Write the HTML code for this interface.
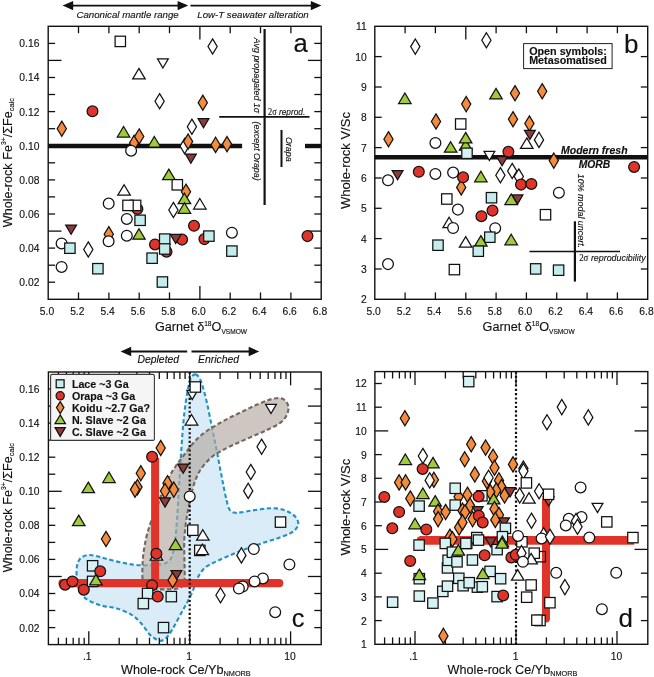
<!DOCTYPE html>
<html><head><meta charset="utf-8"><title>Figure</title>
<style>html,body{margin:0;padding:0;background:#fff;}svg{display:block;will-change:transform;}text{font-family:"Liberation Sans",sans-serif;stroke:#111;stroke-width:0.14px;}</style>
</head><body>
<svg width="654" height="677" viewBox="0 0 654 677">
<rect width="654" height="677" fill="#fff"/>
<line x1="48.2" y1="146.0" x2="242.1" y2="146.0" stroke="#111" stroke-width="4.4" />
<line x1="305.0" y1="146.0" x2="321.2" y2="146.0" stroke="#111" stroke-width="4.4" />
<line x1="264.6" y1="29.0" x2="264.6" y2="205.0" stroke="#111" stroke-width="2.2" />
<line x1="219.2" y1="116.8" x2="309.5" y2="116.8" stroke="#111" stroke-width="1.7" />
<line x1="281.5" y1="130.0" x2="281.5" y2="167.0" stroke="#111" stroke-width="2.0" />
<line x1="78.5" y1="26.3" x2="78.5" y2="33.2" stroke="#111" stroke-width="1.3" />
<line x1="78.5" y1="299.3" x2="78.5" y2="292.4" stroke="#111" stroke-width="1.3" />
<line x1="108.9" y1="26.3" x2="108.9" y2="33.2" stroke="#111" stroke-width="1.3" />
<line x1="108.9" y1="299.3" x2="108.9" y2="292.4" stroke="#111" stroke-width="1.3" />
<line x1="139.2" y1="26.3" x2="139.2" y2="33.2" stroke="#111" stroke-width="1.3" />
<line x1="139.2" y1="299.3" x2="139.2" y2="292.4" stroke="#111" stroke-width="1.3" />
<line x1="169.5" y1="26.3" x2="169.5" y2="33.2" stroke="#111" stroke-width="1.3" />
<line x1="169.5" y1="299.3" x2="169.5" y2="292.4" stroke="#111" stroke-width="1.3" />
<line x1="199.9" y1="26.3" x2="199.9" y2="39.6" stroke="#111" stroke-width="1.3" />
<line x1="199.9" y1="299.3" x2="199.9" y2="286.0" stroke="#111" stroke-width="1.3" />
<line x1="230.2" y1="26.3" x2="230.2" y2="33.2" stroke="#111" stroke-width="1.3" />
<line x1="230.2" y1="299.3" x2="230.2" y2="292.4" stroke="#111" stroke-width="1.3" />
<line x1="260.5" y1="26.3" x2="260.5" y2="33.2" stroke="#111" stroke-width="1.3" />
<line x1="260.5" y1="299.3" x2="260.5" y2="292.4" stroke="#111" stroke-width="1.3" />
<line x1="290.9" y1="26.3" x2="290.9" y2="33.2" stroke="#111" stroke-width="1.3" />
<line x1="290.9" y1="299.3" x2="290.9" y2="292.4" stroke="#111" stroke-width="1.3" />
<line x1="48.2" y1="282.2" x2="55.1" y2="282.2" stroke="#111" stroke-width="1.3" />
<line x1="321.2" y1="282.2" x2="314.3" y2="282.2" stroke="#111" stroke-width="1.3" />
<line x1="48.2" y1="265.2" x2="55.1" y2="265.2" stroke="#111" stroke-width="1.3" />
<line x1="321.2" y1="265.2" x2="314.3" y2="265.2" stroke="#111" stroke-width="1.3" />
<line x1="48.2" y1="248.1" x2="55.1" y2="248.1" stroke="#111" stroke-width="1.3" />
<line x1="321.2" y1="248.1" x2="314.3" y2="248.1" stroke="#111" stroke-width="1.3" />
<line x1="48.2" y1="231.1" x2="61.5" y2="231.1" stroke="#111" stroke-width="1.3" />
<line x1="321.2" y1="231.1" x2="307.9" y2="231.1" stroke="#111" stroke-width="1.3" />
<line x1="48.2" y1="214.0" x2="55.1" y2="214.0" stroke="#111" stroke-width="1.3" />
<line x1="321.2" y1="214.0" x2="314.3" y2="214.0" stroke="#111" stroke-width="1.3" />
<line x1="48.2" y1="196.9" x2="55.1" y2="196.9" stroke="#111" stroke-width="1.3" />
<line x1="321.2" y1="196.9" x2="314.3" y2="196.9" stroke="#111" stroke-width="1.3" />
<line x1="48.2" y1="179.9" x2="55.1" y2="179.9" stroke="#111" stroke-width="1.3" />
<line x1="321.2" y1="179.9" x2="314.3" y2="179.9" stroke="#111" stroke-width="1.3" />
<line x1="48.2" y1="162.8" x2="55.1" y2="162.8" stroke="#111" stroke-width="1.3" />
<line x1="321.2" y1="162.8" x2="314.3" y2="162.8" stroke="#111" stroke-width="1.3" />
<line x1="48.2" y1="145.7" x2="61.5" y2="145.7" stroke="#111" stroke-width="1.3" />
<line x1="321.2" y1="145.7" x2="307.9" y2="145.7" stroke="#111" stroke-width="1.3" />
<line x1="48.2" y1="128.7" x2="55.1" y2="128.7" stroke="#111" stroke-width="1.3" />
<line x1="321.2" y1="128.7" x2="314.3" y2="128.7" stroke="#111" stroke-width="1.3" />
<line x1="48.2" y1="111.6" x2="55.1" y2="111.6" stroke="#111" stroke-width="1.3" />
<line x1="321.2" y1="111.6" x2="314.3" y2="111.6" stroke="#111" stroke-width="1.3" />
<line x1="48.2" y1="94.5" x2="55.1" y2="94.5" stroke="#111" stroke-width="1.3" />
<line x1="321.2" y1="94.5" x2="314.3" y2="94.5" stroke="#111" stroke-width="1.3" />
<line x1="48.2" y1="77.5" x2="55.1" y2="77.5" stroke="#111" stroke-width="1.3" />
<line x1="321.2" y1="77.5" x2="314.3" y2="77.5" stroke="#111" stroke-width="1.3" />
<line x1="48.2" y1="60.4" x2="61.5" y2="60.4" stroke="#111" stroke-width="1.3" />
<line x1="321.2" y1="60.4" x2="307.9" y2="60.4" stroke="#111" stroke-width="1.3" />
<line x1="48.2" y1="43.4" x2="55.1" y2="43.4" stroke="#111" stroke-width="1.3" />
<line x1="321.2" y1="43.4" x2="314.3" y2="43.4" stroke="#111" stroke-width="1.3" />
<rect x="48.2" y="26.3" width="273.0" height="273.0" fill="none" stroke="#111" stroke-width="1.4"/>
<text x="47.0" y="314.7" font-family="Liberation Sans, sans-serif" font-size="10.3" text-anchor="middle" font-weight="normal" font-style="normal" fill="#111" >5.0</text>
<text x="77.3" y="314.7" font-family="Liberation Sans, sans-serif" font-size="10.3" text-anchor="middle" font-weight="normal" font-style="normal" fill="#111" >5.2</text>
<text x="107.7" y="314.7" font-family="Liberation Sans, sans-serif" font-size="10.3" text-anchor="middle" font-weight="normal" font-style="normal" fill="#111" >5.4</text>
<text x="138.0" y="314.7" font-family="Liberation Sans, sans-serif" font-size="10.3" text-anchor="middle" font-weight="normal" font-style="normal" fill="#111" >5.6</text>
<text x="168.3" y="314.7" font-family="Liberation Sans, sans-serif" font-size="10.3" text-anchor="middle" font-weight="normal" font-style="normal" fill="#111" >5.8</text>
<text x="198.7" y="314.7" font-family="Liberation Sans, sans-serif" font-size="10.3" text-anchor="middle" font-weight="normal" font-style="normal" fill="#111" >6.0</text>
<text x="229.0" y="314.7" font-family="Liberation Sans, sans-serif" font-size="10.3" text-anchor="middle" font-weight="normal" font-style="normal" fill="#111" >6.2</text>
<text x="259.3" y="314.7" font-family="Liberation Sans, sans-serif" font-size="10.3" text-anchor="middle" font-weight="normal" font-style="normal" fill="#111" >6.4</text>
<text x="289.7" y="314.7" font-family="Liberation Sans, sans-serif" font-size="10.3" text-anchor="middle" font-weight="normal" font-style="normal" fill="#111" >6.6</text>
<text x="320.0" y="314.7" font-family="Liberation Sans, sans-serif" font-size="10.3" text-anchor="middle" font-weight="normal" font-style="normal" fill="#111" >6.8</text>
<text x="39.4" y="286.1" font-family="Liberation Sans, sans-serif" font-size="10.3" text-anchor="end" font-weight="normal" font-style="normal" fill="#111" >0.02</text>
<text x="39.4" y="252.0" font-family="Liberation Sans, sans-serif" font-size="10.3" text-anchor="end" font-weight="normal" font-style="normal" fill="#111" >0.04</text>
<text x="39.4" y="217.9" font-family="Liberation Sans, sans-serif" font-size="10.3" text-anchor="end" font-weight="normal" font-style="normal" fill="#111" >0.06</text>
<text x="39.4" y="183.8" font-family="Liberation Sans, sans-serif" font-size="10.3" text-anchor="end" font-weight="normal" font-style="normal" fill="#111" >0.08</text>
<text x="39.4" y="149.6" font-family="Liberation Sans, sans-serif" font-size="10.3" text-anchor="end" font-weight="normal" font-style="normal" fill="#111" >0.10</text>
<text x="39.4" y="115.5" font-family="Liberation Sans, sans-serif" font-size="10.3" text-anchor="end" font-weight="normal" font-style="normal" fill="#111" >0.12</text>
<text x="39.4" y="81.4" font-family="Liberation Sans, sans-serif" font-size="10.3" text-anchor="end" font-weight="normal" font-style="normal" fill="#111" >0.14</text>
<text x="39.4" y="47.3" font-family="Liberation Sans, sans-serif" font-size="10.3" text-anchor="end" font-weight="normal" font-style="normal" fill="#111" >0.16</text>
<rect x="115.1" y="36.2" width="10.4" height="10.4" fill="#ffffff" stroke="#111" stroke-width="1.25"/>
<path d="M212.6 38.9L217.2 46.5L212.6 54.1L208.0 46.5Z" fill="#ffffff" stroke="#111" stroke-width="1.25"/>
<path d="M162.9 68.0L168.3 58.8L157.5 58.8Z" fill="#ffffff" stroke="#111" stroke-width="1.25"/>
<path d="M138.9 68.4L145.2 78.9L132.7 78.9Z" fill="#ffffff" stroke="#111" stroke-width="1.25"/>
<path d="M159.6 93.6L164.2 101.2L159.6 108.8L155.0 101.2Z" fill="#ffffff" stroke="#111" stroke-width="1.25"/>
<path d="M202.8 95.1L207.4 102.7L202.8 110.3L198.2 102.7Z" fill="#f58b3c" stroke="#111" stroke-width="1.25"/>
<circle cx="92.5" cy="111.3" r="5.4" fill="#e0342a" stroke="#111" stroke-width="1.25"/>
<path d="M191.9 119.1L196.5 126.7L191.9 134.3L187.3 126.7Z" fill="#ffffff" stroke="#111" stroke-width="1.25"/>
<path d="M203.5 127.8L208.9 118.6L198.1 118.6Z" fill="#8e3b3b" stroke="#111" stroke-width="1.25"/>
<path d="M123.6 126.5L129.8 137.0L117.3 137.0Z" fill="#9fcc38" stroke="#111" stroke-width="1.25"/>
<path d="M134.1 135.3L138.7 142.9L134.1 150.5L129.5 142.9Z" fill="#f58b3c" stroke="#111" stroke-width="1.25"/>
<path d="M139.2 128.9L143.8 136.5L139.2 144.1L134.6 136.5Z" fill="#f58b3c" stroke="#111" stroke-width="1.25"/>
<circle cx="131.1" cy="150.7" r="5.4" fill="#ffffff" stroke="#111" stroke-width="1.25"/>
<path d="M154.3 136.5L160.6 147.0L148.1 147.0Z" fill="#9fcc38" stroke="#111" stroke-width="1.25"/>
<path d="M184.6 138.5L189.2 146.1L184.6 153.7L180.0 146.1Z" fill="#ffffff" stroke="#111" stroke-width="1.25"/>
<path d="M188.1 134.0L192.7 141.6L188.1 149.2L183.5 141.6Z" fill="#f58b3c" stroke="#111" stroke-width="1.25"/>
<path d="M190.9 163.3L196.3 154.1L185.5 154.1Z" fill="#8e3b3b" stroke="#111" stroke-width="1.25"/>
<path d="M215.6 137.3L220.2 144.9L215.6 152.5L211.0 144.9Z" fill="#f58b3c" stroke="#111" stroke-width="1.25"/>
<path d="M227.0 136.5L231.6 144.1L227.0 151.7L222.4 144.1Z" fill="#f58b3c" stroke="#111" stroke-width="1.25"/>
<path d="M61.8 121.1L66.4 128.7L61.8 136.3L57.2 128.7Z" fill="#f58b3c" stroke="#111" stroke-width="1.25"/>
<path d="M168.8 169.1L175.1 179.6L162.6 179.6Z" fill="#9fcc38" stroke="#111" stroke-width="1.25"/>
<rect x="172.1" y="179.6" width="10.4" height="10.4" fill="#ffffff" stroke="#111" stroke-width="1.25"/>
<path d="M186.0 184.1L190.6 191.7L186.0 199.3L181.4 191.7Z" fill="#f58b3c" stroke="#111" stroke-width="1.25"/>
<path d="M184.4 193.2L190.7 203.7L178.2 203.7Z" fill="#9fcc38" stroke="#111" stroke-width="1.25"/>
<path d="M184.4 202.8L190.7 213.3L178.2 213.3Z" fill="#9fcc38" stroke="#111" stroke-width="1.25"/>
<path d="M173.4 202.4L178.0 210.0L173.4 217.6L168.8 210.0Z" fill="#ffffff" stroke="#111" stroke-width="1.25"/>
<path d="M199.8 198.5L206.1 209.0L193.6 209.0Z" fill="#ffffff" stroke="#111" stroke-width="1.25"/>
<path d="M124.1 184.7L130.3 195.2L117.8 195.2Z" fill="#ffffff" stroke="#111" stroke-width="1.25"/>
<circle cx="108.7" cy="203.6" r="5.4" fill="#ffffff" stroke="#111" stroke-width="1.25"/>
<circle cx="137.4" cy="208.9" r="5.4" fill="#e0342a" stroke="#111" stroke-width="1.25"/>
<rect x="130.4" y="200.2" width="10.4" height="10.4" fill="#ffffff" stroke="#111" stroke-width="1.25"/>
<rect x="122.8" y="200.2" width="10.4" height="10.4" fill="#ffffff" stroke="#111" stroke-width="1.25"/>
<circle cx="126.8" cy="218.9" r="5.4" fill="#ffffff" stroke="#111" stroke-width="1.25"/>
<rect x="134.9" y="215.1" width="10.4" height="10.4" fill="#c4ecec" stroke="#111" stroke-width="1.25"/>
<path d="M71.1 234.3L76.5 225.1L65.7 225.1Z" fill="#8e3b3b" stroke="#111" stroke-width="1.25"/>
<path d="M108.8 226.6L113.4 234.2L108.8 241.8L104.2 234.2Z" fill="#f58b3c" stroke="#111" stroke-width="1.25"/>
<circle cx="108.6" cy="241.3" r="5.4" fill="#ffffff" stroke="#111" stroke-width="1.25"/>
<circle cx="126.8" cy="235.7" r="5.4" fill="#ffffff" stroke="#111" stroke-width="1.25"/>
<path d="M139.0 228.7L145.2 239.2L132.8 239.2Z" fill="#9fcc38" stroke="#111" stroke-width="1.25"/>
<circle cx="61.6" cy="243.4" r="5.4" fill="#ffffff" stroke="#111" stroke-width="1.25"/>
<rect x="64.7" y="243.0" width="10.4" height="10.4" fill="#c4ecec" stroke="#111" stroke-width="1.25"/>
<path d="M88.3 241.9L92.9 249.5L88.3 257.1L83.7 249.5Z" fill="#ffffff" stroke="#111" stroke-width="1.25"/>
<circle cx="61.6" cy="266.9" r="5.4" fill="#ffffff" stroke="#111" stroke-width="1.25"/>
<rect x="92.7" y="263.5" width="10.4" height="10.4" fill="#c4ecec" stroke="#111" stroke-width="1.25"/>
<circle cx="194.0" cy="225.8" r="5.4" fill="#e0342a" stroke="#111" stroke-width="1.25"/>
<circle cx="231.9" cy="232.7" r="5.4" fill="#ffffff" stroke="#111" stroke-width="1.25"/>
<circle cx="204.4" cy="239.1" r="5.4" fill="#e0342a" stroke="#111" stroke-width="1.25"/>
<rect x="203.7" y="230.9" width="10.4" height="10.4" fill="#c4ecec" stroke="#111" stroke-width="1.25"/>
<circle cx="182.1" cy="239.6" r="5.4" fill="#e0342a" stroke="#111" stroke-width="1.25"/>
<path d="M175.7 243.5L181.1 234.3L170.3 234.3Z" fill="#8e3b3b" stroke="#111" stroke-width="1.25"/>
<circle cx="155.0" cy="244.4" r="5.4" fill="#e0342a" stroke="#111" stroke-width="1.25"/>
<circle cx="166.5" cy="251.7" r="5.4" fill="#e0342a" stroke="#111" stroke-width="1.25"/>
<rect x="159.5" y="233.9" width="10.4" height="10.4" fill="#c4ecec" stroke="#111" stroke-width="1.25"/>
<rect x="159.5" y="243.8" width="10.4" height="10.4" fill="#c4ecec" stroke="#111" stroke-width="1.25"/>
<rect x="146.9" y="253.0" width="10.4" height="10.4" fill="#c4ecec" stroke="#111" stroke-width="1.25"/>
<rect x="226.7" y="245.9" width="10.4" height="10.4" fill="#c4ecec" stroke="#111" stroke-width="1.25"/>
<rect x="157.2" y="276.8" width="10.4" height="10.4" fill="#c4ecec" stroke="#111" stroke-width="1.25"/>
<circle cx="307.5" cy="236.1" r="5.4" fill="#e0342a" stroke="#111" stroke-width="1.25"/>
<text x="127.6" y="17.6" font-family="Liberation Sans, sans-serif" font-size="9.7" text-anchor="middle" font-weight="normal" font-style="italic" fill="#111" >Canonical mantle range</text>
<text x="253.0" y="17.6" font-family="Liberation Sans, sans-serif" font-size="9.7" text-anchor="middle" font-weight="normal" font-style="italic" fill="#111" >Low-T seawater alteration</text>
<line x1="70.0" y1="5.6" x2="180.0" y2="5.6" stroke="#111" stroke-width="1.9" />
<path d="M62.6 5.6L73.2 0.9L73.2 10.3Z" fill="#111"/>
<path d="M188.2 5.6L177.6 0.9L177.6 10.3Z" fill="#111"/>
<line x1="190.5" y1="5.6" x2="313.0" y2="5.6" stroke="#111" stroke-width="1.9" />
<path d="M321.4 5.6L310.8 0.9L310.8 10.3Z" fill="#111"/>
<text x="300.6" y="52.2" font-family="Liberation Sans, sans-serif" font-size="25.6" text-anchor="middle" font-weight="normal" font-style="normal" fill="#111" >a</text>
<text transform="translate(253.5,37.8) rotate(90)" font-family="Liberation Sans, sans-serif" font-size="9.7" font-style="italic" fill="#111" textLength="75.4" lengthAdjust="spacingAndGlyphs">Avg propagated 1σ</text>
<text transform="translate(253.5,121.6) rotate(90)" font-family="Liberation Sans, sans-serif" font-size="9.7" font-style="italic" fill="#111" textLength="59" lengthAdjust="spacingAndGlyphs">(except Orapa)</text>
<text x="268" y="114.7" font-family="Liberation Sans, sans-serif" font-size="9.7" font-style="italic" fill="#111" textLength="37.2" lengthAdjust="spacingAndGlyphs"><tspan font-family="Liberation Serif, serif" font-style="normal">2σ</tspan> reprod.</text>
<text transform="translate(286,136.9) rotate(90)" font-family="Liberation Sans, sans-serif" font-size="9.7" font-style="italic" fill="#111" textLength="24.8" lengthAdjust="spacingAndGlyphs">Orapa</text>
<text x="155" y="331.4" font-family="Liberation Sans, sans-serif" font-size="12.65" fill="#111">Garnet δ<tspan font-size="6.6" dy="-5.5">18</tspan><tspan dy="5.5">O</tspan><tspan font-size="6.6" dy="2.5">VSMOW</tspan></text>
<text transform="translate(11.6,162.6) rotate(-90)" font-family="Liberation Sans, sans-serif" font-size="12.65" text-anchor="middle" fill="#111">Whole-rock Fe<tspan font-size="6.8" dy="-5.5">3+</tspan><tspan dy="5.5">/ΣFe</tspan><tspan font-size="7.5" dy="2.5">calc</tspan></text>
<line x1="374.8" y1="157.3" x2="647.7" y2="157.3" stroke="#111" stroke-width="4.4" />
<line x1="574.9" y1="221.3" x2="574.9" y2="281.6" stroke="#111" stroke-width="2.2" />
<line x1="529.4" y1="251.5" x2="620.0" y2="251.5" stroke="#111" stroke-width="1.7" />
<line x1="405.1" y1="26.3" x2="405.1" y2="33.2" stroke="#111" stroke-width="1.3" />
<line x1="405.1" y1="299.3" x2="405.1" y2="292.4" stroke="#111" stroke-width="1.3" />
<line x1="435.4" y1="26.3" x2="435.4" y2="33.2" stroke="#111" stroke-width="1.3" />
<line x1="435.4" y1="299.3" x2="435.4" y2="292.4" stroke="#111" stroke-width="1.3" />
<line x1="465.8" y1="26.3" x2="465.8" y2="39.6" stroke="#111" stroke-width="1.3" />
<line x1="465.8" y1="299.3" x2="465.8" y2="292.4" stroke="#111" stroke-width="1.3" />
<line x1="496.1" y1="26.3" x2="496.1" y2="33.2" stroke="#111" stroke-width="1.3" />
<line x1="496.1" y1="299.3" x2="496.1" y2="292.4" stroke="#111" stroke-width="1.3" />
<line x1="526.4" y1="26.3" x2="526.4" y2="33.2" stroke="#111" stroke-width="1.3" />
<line x1="526.4" y1="299.3" x2="526.4" y2="292.4" stroke="#111" stroke-width="1.3" />
<line x1="556.7" y1="26.3" x2="556.7" y2="33.2" stroke="#111" stroke-width="1.3" />
<line x1="556.7" y1="299.3" x2="556.7" y2="292.4" stroke="#111" stroke-width="1.3" />
<line x1="587.1" y1="26.3" x2="587.1" y2="33.2" stroke="#111" stroke-width="1.3" />
<line x1="587.1" y1="299.3" x2="587.1" y2="292.4" stroke="#111" stroke-width="1.3" />
<line x1="617.4" y1="26.3" x2="617.4" y2="33.2" stroke="#111" stroke-width="1.3" />
<line x1="617.4" y1="299.3" x2="617.4" y2="292.4" stroke="#111" stroke-width="1.3" />
<line x1="374.8" y1="269.0" x2="381.7" y2="269.0" stroke="#111" stroke-width="1.3" />
<line x1="647.7" y1="269.0" x2="640.8" y2="269.0" stroke="#111" stroke-width="1.3" />
<line x1="374.8" y1="238.6" x2="381.7" y2="238.6" stroke="#111" stroke-width="1.3" />
<line x1="647.7" y1="238.6" x2="640.8" y2="238.6" stroke="#111" stroke-width="1.3" />
<line x1="374.8" y1="208.3" x2="381.7" y2="208.3" stroke="#111" stroke-width="1.3" />
<line x1="647.7" y1="208.3" x2="640.8" y2="208.3" stroke="#111" stroke-width="1.3" />
<line x1="374.8" y1="178.0" x2="381.7" y2="178.0" stroke="#111" stroke-width="1.3" />
<line x1="647.7" y1="178.0" x2="640.8" y2="178.0" stroke="#111" stroke-width="1.3" />
<line x1="374.8" y1="147.6" x2="381.7" y2="147.6" stroke="#111" stroke-width="1.3" />
<line x1="647.7" y1="147.6" x2="640.8" y2="147.6" stroke="#111" stroke-width="1.3" />
<line x1="374.8" y1="117.3" x2="381.7" y2="117.3" stroke="#111" stroke-width="1.3" />
<line x1="647.7" y1="117.3" x2="640.8" y2="117.3" stroke="#111" stroke-width="1.3" />
<line x1="374.8" y1="87.0" x2="381.7" y2="87.0" stroke="#111" stroke-width="1.3" />
<line x1="647.7" y1="87.0" x2="640.8" y2="87.0" stroke="#111" stroke-width="1.3" />
<line x1="374.8" y1="56.6" x2="381.7" y2="56.6" stroke="#111" stroke-width="1.3" />
<line x1="647.7" y1="56.6" x2="640.8" y2="56.6" stroke="#111" stroke-width="1.3" />
<rect x="374.8" y="26.3" width="272.90000000000003" height="273.0" fill="none" stroke="#111" stroke-width="1.4"/>
<text x="373.6" y="314.7" font-family="Liberation Sans, sans-serif" font-size="10.3" text-anchor="middle" font-weight="normal" font-style="normal" fill="#111" >5.0</text>
<text x="403.9" y="314.7" font-family="Liberation Sans, sans-serif" font-size="10.3" text-anchor="middle" font-weight="normal" font-style="normal" fill="#111" >5.2</text>
<text x="434.2" y="314.7" font-family="Liberation Sans, sans-serif" font-size="10.3" text-anchor="middle" font-weight="normal" font-style="normal" fill="#111" >5.4</text>
<text x="464.6" y="314.7" font-family="Liberation Sans, sans-serif" font-size="10.3" text-anchor="middle" font-weight="normal" font-style="normal" fill="#111" >5.6</text>
<text x="494.9" y="314.7" font-family="Liberation Sans, sans-serif" font-size="10.3" text-anchor="middle" font-weight="normal" font-style="normal" fill="#111" >5.8</text>
<text x="525.2" y="314.7" font-family="Liberation Sans, sans-serif" font-size="10.3" text-anchor="middle" font-weight="normal" font-style="normal" fill="#111" >6.0</text>
<text x="555.5" y="314.7" font-family="Liberation Sans, sans-serif" font-size="10.3" text-anchor="middle" font-weight="normal" font-style="normal" fill="#111" >6.2</text>
<text x="585.9" y="314.7" font-family="Liberation Sans, sans-serif" font-size="10.3" text-anchor="middle" font-weight="normal" font-style="normal" fill="#111" >6.4</text>
<text x="616.2" y="314.7" font-family="Liberation Sans, sans-serif" font-size="10.3" text-anchor="middle" font-weight="normal" font-style="normal" fill="#111" >6.6</text>
<text x="646.5" y="314.7" font-family="Liberation Sans, sans-serif" font-size="10.3" text-anchor="middle" font-weight="normal" font-style="normal" fill="#111" >6.8</text>
<text x="366.7" y="303.2" font-family="Liberation Sans, sans-serif" font-size="10.3" text-anchor="end" font-weight="normal" font-style="normal" fill="#111" >2</text>
<text x="366.7" y="272.9" font-family="Liberation Sans, sans-serif" font-size="10.3" text-anchor="end" font-weight="normal" font-style="normal" fill="#111" >3</text>
<text x="366.7" y="242.5" font-family="Liberation Sans, sans-serif" font-size="10.3" text-anchor="end" font-weight="normal" font-style="normal" fill="#111" >4</text>
<text x="366.7" y="212.2" font-family="Liberation Sans, sans-serif" font-size="10.3" text-anchor="end" font-weight="normal" font-style="normal" fill="#111" >5</text>
<text x="366.7" y="181.9" font-family="Liberation Sans, sans-serif" font-size="10.3" text-anchor="end" font-weight="normal" font-style="normal" fill="#111" >6</text>
<text x="366.7" y="151.5" font-family="Liberation Sans, sans-serif" font-size="10.3" text-anchor="end" font-weight="normal" font-style="normal" fill="#111" >7</text>
<text x="366.7" y="121.2" font-family="Liberation Sans, sans-serif" font-size="10.3" text-anchor="end" font-weight="normal" font-style="normal" fill="#111" >8</text>
<text x="366.7" y="90.9" font-family="Liberation Sans, sans-serif" font-size="10.3" text-anchor="end" font-weight="normal" font-style="normal" fill="#111" >9</text>
<text x="366.7" y="60.5" font-family="Liberation Sans, sans-serif" font-size="10.3" text-anchor="end" font-weight="normal" font-style="normal" fill="#111" >10</text>
<text x="366.7" y="30.2" font-family="Liberation Sans, sans-serif" font-size="10.3" text-anchor="end" font-weight="normal" font-style="normal" fill="#111" >11</text>
<path d="M415.3 39.0L419.9 46.6L415.3 54.2L410.7 46.6Z" fill="#ffffff" stroke="#111" stroke-width="1.25"/>
<path d="M486.4 32.7L491.0 40.3L486.4 47.9L481.8 40.3Z" fill="#ffffff" stroke="#111" stroke-width="1.25"/>
<path d="M404.9 93.0L411.1 103.5L398.6 103.5Z" fill="#9fcc38" stroke="#111" stroke-width="1.25"/>
<path d="M496.0 88.4L502.2 98.9L489.8 98.9Z" fill="#9fcc38" stroke="#111" stroke-width="1.25"/>
<path d="M466.2 96.5L470.8 104.1L466.2 111.7L461.6 104.1Z" fill="#f58b3c" stroke="#111" stroke-width="1.25"/>
<path d="M436.0 113.9L440.6 121.5L436.0 129.1L431.4 121.5Z" fill="#f58b3c" stroke="#111" stroke-width="1.25"/>
<rect x="455.5" y="118.8" width="10.4" height="10.4" fill="#ffffff" stroke="#111" stroke-width="1.25"/>
<path d="M388.5 131.6L393.1 139.2L388.5 146.8L383.9 139.2Z" fill="#f58b3c" stroke="#111" stroke-width="1.25"/>
<circle cx="435.4" cy="142.9" r="5.4" fill="#ffffff" stroke="#111" stroke-width="1.25"/>
<path d="M450.6 141.7L456.9 152.2L444.4 152.2Z" fill="#9fcc38" stroke="#111" stroke-width="1.25"/>
<path d="M465.7 139.6L471.9 150.1L459.4 150.1Z" fill="#9fcc38" stroke="#111" stroke-width="1.25"/>
<path d="M465.7 132.4L471.9 142.9L459.4 142.9Z" fill="#9fcc38" stroke="#111" stroke-width="1.25"/>
<rect x="461.8" y="148.1" width="10.4" height="10.4" fill="#d6f2f3" stroke="#111" stroke-width="1.25"/>
<path d="M489.4 160.5L494.8 151.3L484.0 151.3Z" fill="#ffffff" stroke="#111" stroke-width="1.25"/>
<path d="M397.6 179.7L403.0 170.5L392.2 170.5Z" fill="#8e3b3b" stroke="#111" stroke-width="1.25"/>
<circle cx="418.8" cy="171.8" r="5.4" fill="#e0342a" stroke="#111" stroke-width="1.25"/>
<circle cx="435.4" cy="173.9" r="5.4" fill="#ffffff" stroke="#111" stroke-width="1.25"/>
<circle cx="453.1" cy="172.6" r="5.4" fill="#ffffff" stroke="#111" stroke-width="1.25"/>
<path d="M461.2 179.8L465.8 187.4L461.2 195.0L456.6 187.4Z" fill="#f58b3c" stroke="#111" stroke-width="1.25"/>
<circle cx="463.1" cy="177.3" r="5.4" fill="#e0342a" stroke="#111" stroke-width="1.25"/>
<circle cx="388.0" cy="180.3" r="5.4" fill="#ffffff" stroke="#111" stroke-width="1.25"/>
<path d="M480.9 171.3L487.1 181.8L474.6 181.8Z" fill="#9fcc38" stroke="#111" stroke-width="1.25"/>
<path d="M515.0 85.6L519.6 93.2L515.0 100.8L510.4 93.2Z" fill="#f58b3c" stroke="#111" stroke-width="1.25"/>
<path d="M542.2 83.6L546.8 91.2L542.2 98.8L537.6 91.2Z" fill="#f58b3c" stroke="#111" stroke-width="1.25"/>
<path d="M513.0 111.6L517.6 119.2L513.0 126.8L508.4 119.2Z" fill="#f58b3c" stroke="#111" stroke-width="1.25"/>
<path d="M529.4 115.9L534.0 123.5L529.4 131.1L524.8 123.5Z" fill="#f58b3c" stroke="#111" stroke-width="1.25"/>
<path d="M529.9 139.5L535.3 130.3L524.5 130.3Z" fill="#8e3b3b" stroke="#111" stroke-width="1.25"/>
<path d="M539.0 132.3L543.6 139.9L539.0 147.5L534.4 139.9Z" fill="#ffffff" stroke="#111" stroke-width="1.25"/>
<path d="M526.8 137.9L533.0 148.4L520.5 148.4Z" fill="#ffffff" stroke="#111" stroke-width="1.25"/>
<circle cx="508.4" cy="151.8" r="5.4" fill="#e0342a" stroke="#111" stroke-width="1.25"/>
<path d="M502.1 165.7L507.5 156.5L496.7 156.5Z" fill="#8e3b3b" stroke="#111" stroke-width="1.25"/>
<path d="M553.8 153.0L558.4 160.6L553.8 168.2L549.2 160.6Z" fill="#f58b3c" stroke="#111" stroke-width="1.25"/>
<circle cx="634.1" cy="166.9" r="5.4" fill="#e0342a" stroke="#111" stroke-width="1.25"/>
<path d="M500.4 167.6L505.0 175.2L500.4 182.8L495.8 175.2Z" fill="#ffffff" stroke="#111" stroke-width="1.25"/>
<path d="M512.2 163.4L516.8 171.0L512.2 178.6L507.6 171.0Z" fill="#ffffff" stroke="#111" stroke-width="1.25"/>
<path d="M518.8 168.9L523.4 176.5L518.8 184.1L514.2 176.5Z" fill="#ffffff" stroke="#111" stroke-width="1.25"/>
<circle cx="521.0" cy="184.6" r="5.4" fill="#e0342a" stroke="#111" stroke-width="1.25"/>
<circle cx="531.4" cy="183.9" r="5.4" fill="#e0342a" stroke="#111" stroke-width="1.25"/>
<circle cx="558.9" cy="192.7" r="5.4" fill="#ffffff" stroke="#111" stroke-width="1.25"/>
<rect x="441.6" y="193.8" width="10.4" height="10.4" fill="#ffffff" stroke="#111" stroke-width="1.25"/>
<rect x="486.3" y="192.5" width="10.4" height="10.4" fill="#c4ecec" stroke="#111" stroke-width="1.25"/>
<circle cx="457.9" cy="209.6" r="5.4" fill="#ffffff" stroke="#111" stroke-width="1.25"/>
<circle cx="481.4" cy="216.2" r="5.4" fill="#e0342a" stroke="#111" stroke-width="1.25"/>
<circle cx="492.5" cy="210.6" r="5.4" fill="#e0342a" stroke="#111" stroke-width="1.25"/>
<path d="M449.1 217.2L455.4 227.7L442.9 227.7Z" fill="#ffffff" stroke="#111" stroke-width="1.25"/>
<circle cx="453.1" cy="228.0" r="5.4" fill="#ffffff" stroke="#111" stroke-width="1.25"/>
<circle cx="495.2" cy="228.2" r="5.4" fill="#ffffff" stroke="#111" stroke-width="1.25"/>
<rect x="432.8" y="240.0" width="10.4" height="10.4" fill="#c4ecec" stroke="#111" stroke-width="1.25"/>
<path d="M465.7 236.6L471.9 247.1L459.4 247.1Z" fill="#ffffff" stroke="#111" stroke-width="1.25"/>
<rect x="484.6" y="232.0" width="10.4" height="10.4" fill="#c4ecec" stroke="#111" stroke-width="1.25"/>
<path d="M480.9 235.6L487.1 246.1L474.6 246.1Z" fill="#9fcc38" stroke="#111" stroke-width="1.25"/>
<rect x="473.1" y="246.0" width="10.4" height="10.4" fill="#c4ecec" stroke="#111" stroke-width="1.25"/>
<circle cx="388.0" cy="264.1" r="5.4" fill="#ffffff" stroke="#111" stroke-width="1.25"/>
<rect x="449.2" y="264.4" width="10.4" height="10.4" fill="#ffffff" stroke="#111" stroke-width="1.25"/>
<path d="M517.5 204.1L522.9 194.9L512.1 194.9Z" fill="#8e3b3b" stroke="#111" stroke-width="1.25"/>
<path d="M511.2 194.0L517.5 204.5L504.9 204.5Z" fill="#9fcc38" stroke="#111" stroke-width="1.25"/>
<rect x="540.3" y="209.5" width="10.4" height="10.4" fill="#ffffff" stroke="#111" stroke-width="1.25"/>
<path d="M511.2 234.3L517.5 244.8L504.9 244.8Z" fill="#9fcc38" stroke="#111" stroke-width="1.25"/>
<rect x="530.5" y="263.7" width="10.4" height="10.4" fill="#c4ecec" stroke="#111" stroke-width="1.25"/>
<rect x="553.4" y="265.0" width="10.4" height="10.4" fill="#c4ecec" stroke="#111" stroke-width="1.25"/>
<rect x="523.6" y="43.6" width="88.5" height="25" fill="#fff" stroke="#222" stroke-width="1"/>
<text x="568.0" y="54.8" font-family="Liberation Sans, sans-serif" font-size="10.75" text-anchor="middle" font-weight="bold" font-style="normal" fill="#111" >Open symbols:</text>
<text x="568.0" y="63.8" font-family="Liberation Sans, sans-serif" font-size="10.75" text-anchor="middle" font-weight="bold" font-style="normal" fill="#111" >Metasomatised</text>
<text x="631.2" y="53.4" font-family="Liberation Sans, sans-serif" font-size="26" text-anchor="middle" font-weight="normal" font-style="normal" fill="#111" >b</text>
<text x="594.3" y="153.9" font-family="Liberation Sans, sans-serif" font-size="10" text-anchor="middle" font-weight="bold" font-style="italic" fill="#111" textLength="66.5" lengthAdjust="spacingAndGlyphs">Modern fresh</text>
<text x="594.4" y="168.4" font-family="Liberation Sans, sans-serif" font-size="10" text-anchor="middle" font-weight="bold" font-style="italic" fill="#111" textLength="31.5" lengthAdjust="spacingAndGlyphs">MORB</text>
<text transform="translate(577.7,173.8) rotate(90)" font-family="Liberation Sans, sans-serif" font-size="9.7" font-style="italic" fill="#111" textLength="74.3" lengthAdjust="spacingAndGlyphs">10% modal uncert.</text>
<text x="579.2" y="261.0" font-family="Liberation Sans, sans-serif" font-size="9.7" font-style="italic" fill="#111" textLength="66.4" lengthAdjust="spacingAndGlyphs"><tspan font-family="Liberation Serif, serif" font-style="normal">2σ</tspan> reproducibility</text>
<text x="482.6" y="331.4" font-family="Liberation Sans, sans-serif" font-size="12.65" fill="#111">Garnet δ<tspan font-size="6.6" dy="-5.5">18</tspan><tspan dy="5.5">O</tspan><tspan font-size="6.6" dy="2.5">VSMOW</tspan></text>
<text x="0.0" y="0.0" font-family="Liberation Sans, sans-serif" font-size="13" text-anchor="middle" font-weight="normal" font-style="normal" fill="#111" transform="translate(350.2,160.5) rotate(-90)">Whole-rock V/Sc</text>
<clipPath id="clipc"><rect x="48.4" y="372" width="272.8" height="272.6"/></clipPath>
<path d="M195.3 374.4C196.7 374.5 198.2 375.8 199.5 378.0C200.8 380.2 201.7 383.2 203.0 387.5C204.3 391.8 205.8 397.8 207.2 404.0C208.6 410.2 210.2 418.8 211.5 425.0C212.8 431.2 213.8 436.0 214.8 441.0C215.8 446.0 216.7 450.2 217.6 455.0C218.5 459.8 219.4 464.9 220.4 470.0C221.4 475.1 222.4 480.5 223.4 485.5C224.4 490.5 225.5 496.0 226.5 500.0C227.5 504.0 228.2 507.4 229.5 509.5C230.8 511.6 232.1 512.1 234.0 512.6C235.9 513.1 237.7 512.8 240.7 512.4C243.7 512.0 247.8 511.1 252.0 510.5C256.2 509.9 261.9 509.0 265.9 508.6C269.9 508.2 273.0 508.2 276.0 508.4C279.0 508.6 281.4 509.1 284.0 510.0C286.6 510.9 289.4 512.1 291.5 513.5C293.6 514.9 295.5 516.7 296.6 518.5C297.7 520.3 298.6 522.6 298.3 524.5C298.0 526.4 296.4 528.5 295.0 530.0C293.6 531.5 292.4 532.3 289.6 533.6C286.9 534.9 282.4 536.6 278.5 538.0C274.6 539.4 270.0 540.7 265.9 542.0C261.8 543.3 258.0 544.6 254.0 546.0C250.0 547.4 246.1 548.8 242.1 550.3C238.1 551.8 234.0 553.6 230.0 555.3C226.0 557.0 221.6 559.0 218.3 560.5C215.0 562.0 212.3 563.2 210.0 564.5C207.7 565.8 205.9 566.8 204.2 568.5C202.4 570.2 200.8 572.4 199.5 574.5C198.2 576.6 197.6 578.3 196.5 581.0C195.4 583.7 194.2 587.5 192.8 590.8C191.4 594.1 189.7 597.7 188.0 601.0C186.3 604.3 184.8 606.6 182.7 610.5C180.5 614.4 177.3 620.6 175.1 624.5C172.9 628.4 171.2 631.6 169.5 634.0C167.8 636.4 166.6 637.9 165.0 639.0C163.4 640.1 161.8 641.0 160.0 640.8C158.2 640.6 155.9 639.2 154.0 638.0C152.1 636.8 150.9 635.9 148.8 633.5C146.7 631.1 144.2 626.6 141.3 623.5C138.4 620.4 135.4 617.1 131.2 614.6C127.0 612.1 121.0 609.7 116.0 608.2C111.0 606.7 105.9 607.0 100.9 605.4C95.9 603.8 89.5 601.5 85.8 598.6C82.1 595.7 80.0 591.9 78.5 588.0C77.0 584.1 76.8 578.9 76.6 575.1C76.4 571.3 76.5 567.9 77.2 565.0C77.9 562.1 79.0 559.5 81.0 557.8C83.0 556.1 86.3 555.2 89.0 555.0C91.7 554.8 94.2 555.7 97.0 556.3C99.8 556.9 102.0 557.7 106.0 558.7C110.0 559.7 116.1 561.5 121.1 562.5C126.1 563.5 131.1 564.5 136.2 565.0C141.2 565.5 146.9 565.4 151.4 565.2C155.9 565.0 159.9 564.9 163.0 564.0C166.1 563.1 168.3 562.0 170.0 560.0C171.7 558.0 172.3 555.3 173.2 552.0C174.1 548.7 174.6 545.3 175.2 540.0C175.8 534.7 176.4 528.3 177.0 520.0C177.6 511.7 178.2 499.7 178.8 490.0C179.4 480.3 179.9 472.5 180.6 461.7C181.3 450.9 182.2 434.9 183.1 425.0C184.0 415.1 184.9 408.5 185.8 402.0C186.7 395.5 187.7 390.1 188.6 386.0C189.5 381.9 190.2 379.4 191.3 377.5C192.4 375.6 193.9 374.3 195.3 374.4Z" fill="#d9ecf8" stroke="#2192c4" stroke-width="2.1" stroke-dasharray="4.3 2.6" clip-path="url(#clipc)"/>
<path d="M281.0 398.3C282.9 398.8 284.8 399.9 286.0 401.5C287.2 403.1 288.4 405.4 288.5 407.7C288.6 410.0 287.8 413.1 286.5 415.5C285.2 417.9 283.5 420.2 281.0 422.3C278.5 424.4 274.9 426.1 271.5 427.8C268.1 429.6 264.8 430.9 260.6 432.8C256.4 434.7 251.0 437.0 246.5 439.0C242.0 441.0 237.5 442.9 233.4 444.8C229.3 446.7 225.4 448.6 222.0 450.5C218.6 452.4 215.8 453.8 213.0 456.0C210.2 458.2 207.5 460.9 205.2 463.5C202.9 466.1 201.0 468.8 199.4 471.5C197.8 474.2 196.6 477.1 195.5 480.0C194.4 482.9 193.6 485.3 192.6 489.0C191.6 492.7 190.6 497.8 189.7 502.0C188.8 506.2 187.9 510.4 187.2 514.5C186.5 518.6 185.9 522.5 185.4 526.8C184.9 531.0 184.5 535.3 184.3 540.0C184.1 544.7 184.2 550.3 184.3 555.0C184.4 559.7 184.6 564.0 184.6 568.0C184.6 572.0 184.9 576.1 184.6 579.0C184.3 581.9 184.2 583.9 183.0 585.5C181.8 587.1 180.0 588.0 177.5 588.6C175.0 589.2 171.4 589.2 168.0 589.3C164.6 589.4 160.2 589.5 157.0 589.3C153.8 589.1 150.7 589.1 148.5 588.3C146.3 587.5 145.0 586.5 144.0 584.6C143.0 582.7 142.7 580.1 142.4 577.0C142.2 573.9 142.4 569.3 142.5 566.0C142.6 562.7 142.7 560.3 143.0 557.0C143.3 553.7 143.9 549.9 144.6 546.0C145.3 542.1 146.1 537.7 147.3 533.4C148.5 529.1 150.0 524.5 151.6 520.2C153.2 515.9 155.2 512.3 157.0 507.5C158.8 502.7 160.5 496.5 162.5 491.5C164.5 486.5 166.8 481.4 168.9 477.3C171.0 473.2 172.9 470.4 175.2 467.0C177.5 463.6 179.9 460.4 182.5 457.0C185.1 453.6 187.7 449.7 190.5 446.3C193.3 442.9 196.3 439.6 199.4 436.8C202.5 434.0 205.6 431.8 209.0 429.5C212.4 427.2 216.1 425.1 219.8 423.0C223.6 420.9 227.5 418.8 231.5 416.8C235.5 414.8 239.6 412.9 243.6 411.0C247.6 409.1 251.5 407.1 255.5 405.3C259.5 403.5 264.2 401.5 267.4 400.4C270.6 399.3 272.2 398.9 274.5 398.5C276.8 398.1 279.1 397.8 281.0 398.3Z" fill="#b3a9a1" fill-opacity="0.66" stroke="#75665e" stroke-width="2.1" stroke-dasharray="4.3 2.6"/>
<line x1="155.1" y1="458" x2="155.1" y2="583.2" stroke="#e0342a" stroke-width="8"/>
<line x1="62.5" y1="583.2" x2="279.2" y2="583.2" stroke="#e0342a" stroke-width="8.2" stroke-linecap="round"/>
<line x1="189.7" y1="372.0" x2="189.7" y2="644.6" stroke="#111" stroke-width="2.2" stroke-dasharray="2.1 2.2"/>
<line x1="58.4" y1="372.0" x2="58.4" y2="378.9" stroke="#111" stroke-width="1.3" />
<line x1="58.4" y1="644.6" x2="58.4" y2="637.7" stroke="#111" stroke-width="1.3" />
<line x1="66.4" y1="372.0" x2="66.4" y2="378.9" stroke="#111" stroke-width="1.3" />
<line x1="66.4" y1="644.6" x2="66.4" y2="637.7" stroke="#111" stroke-width="1.3" />
<line x1="73.2" y1="372.0" x2="73.2" y2="378.9" stroke="#111" stroke-width="1.3" />
<line x1="73.2" y1="644.6" x2="73.2" y2="637.7" stroke="#111" stroke-width="1.3" />
<line x1="79.0" y1="372.0" x2="79.0" y2="378.9" stroke="#111" stroke-width="1.3" />
<line x1="79.0" y1="644.6" x2="79.0" y2="637.7" stroke="#111" stroke-width="1.3" />
<line x1="84.2" y1="372.0" x2="84.2" y2="378.9" stroke="#111" stroke-width="1.3" />
<line x1="84.2" y1="644.6" x2="84.2" y2="637.7" stroke="#111" stroke-width="1.3" />
<line x1="88.8" y1="372.0" x2="88.8" y2="385.3" stroke="#111" stroke-width="1.3" />
<line x1="88.8" y1="644.6" x2="88.8" y2="631.3" stroke="#111" stroke-width="1.3" />
<line x1="119.2" y1="372.0" x2="119.2" y2="378.9" stroke="#111" stroke-width="1.3" />
<line x1="119.2" y1="644.6" x2="119.2" y2="637.7" stroke="#111" stroke-width="1.3" />
<line x1="136.9" y1="372.0" x2="136.9" y2="378.9" stroke="#111" stroke-width="1.3" />
<line x1="136.9" y1="644.6" x2="136.9" y2="637.7" stroke="#111" stroke-width="1.3" />
<line x1="149.5" y1="372.0" x2="149.5" y2="378.9" stroke="#111" stroke-width="1.3" />
<line x1="149.5" y1="644.6" x2="149.5" y2="637.7" stroke="#111" stroke-width="1.3" />
<line x1="159.3" y1="372.0" x2="159.3" y2="378.9" stroke="#111" stroke-width="1.3" />
<line x1="159.3" y1="644.6" x2="159.3" y2="637.7" stroke="#111" stroke-width="1.3" />
<line x1="167.3" y1="372.0" x2="167.3" y2="378.9" stroke="#111" stroke-width="1.3" />
<line x1="167.3" y1="644.6" x2="167.3" y2="637.7" stroke="#111" stroke-width="1.3" />
<line x1="174.1" y1="372.0" x2="174.1" y2="378.9" stroke="#111" stroke-width="1.3" />
<line x1="174.1" y1="644.6" x2="174.1" y2="637.7" stroke="#111" stroke-width="1.3" />
<line x1="179.9" y1="372.0" x2="179.9" y2="378.9" stroke="#111" stroke-width="1.3" />
<line x1="179.9" y1="644.6" x2="179.9" y2="637.7" stroke="#111" stroke-width="1.3" />
<line x1="185.1" y1="372.0" x2="185.1" y2="378.9" stroke="#111" stroke-width="1.3" />
<line x1="185.1" y1="644.6" x2="185.1" y2="637.7" stroke="#111" stroke-width="1.3" />
<line x1="189.7" y1="372.0" x2="189.7" y2="385.3" stroke="#111" stroke-width="1.3" />
<line x1="189.7" y1="644.6" x2="189.7" y2="631.3" stroke="#111" stroke-width="1.3" />
<line x1="220.1" y1="372.0" x2="220.1" y2="378.9" stroke="#111" stroke-width="1.3" />
<line x1="220.1" y1="644.6" x2="220.1" y2="637.7" stroke="#111" stroke-width="1.3" />
<line x1="237.8" y1="372.0" x2="237.8" y2="378.9" stroke="#111" stroke-width="1.3" />
<line x1="237.8" y1="644.6" x2="237.8" y2="637.7" stroke="#111" stroke-width="1.3" />
<line x1="250.4" y1="372.0" x2="250.4" y2="378.9" stroke="#111" stroke-width="1.3" />
<line x1="250.4" y1="644.6" x2="250.4" y2="637.7" stroke="#111" stroke-width="1.3" />
<line x1="260.2" y1="372.0" x2="260.2" y2="378.9" stroke="#111" stroke-width="1.3" />
<line x1="260.2" y1="644.6" x2="260.2" y2="637.7" stroke="#111" stroke-width="1.3" />
<line x1="268.2" y1="372.0" x2="268.2" y2="378.9" stroke="#111" stroke-width="1.3" />
<line x1="268.2" y1="644.6" x2="268.2" y2="637.7" stroke="#111" stroke-width="1.3" />
<line x1="275.0" y1="372.0" x2="275.0" y2="378.9" stroke="#111" stroke-width="1.3" />
<line x1="275.0" y1="644.6" x2="275.0" y2="637.7" stroke="#111" stroke-width="1.3" />
<line x1="280.8" y1="372.0" x2="280.8" y2="378.9" stroke="#111" stroke-width="1.3" />
<line x1="280.8" y1="644.6" x2="280.8" y2="637.7" stroke="#111" stroke-width="1.3" />
<line x1="286.0" y1="372.0" x2="286.0" y2="378.9" stroke="#111" stroke-width="1.3" />
<line x1="286.0" y1="644.6" x2="286.0" y2="637.7" stroke="#111" stroke-width="1.3" />
<line x1="290.6" y1="372.0" x2="290.6" y2="385.3" stroke="#111" stroke-width="1.3" />
<line x1="290.6" y1="644.6" x2="290.6" y2="631.3" stroke="#111" stroke-width="1.3" />
<line x1="48.4" y1="627.6" x2="55.3" y2="627.6" stroke="#111" stroke-width="1.3" />
<line x1="321.2" y1="627.6" x2="314.3" y2="627.6" stroke="#111" stroke-width="1.3" />
<line x1="48.4" y1="610.5" x2="55.3" y2="610.5" stroke="#111" stroke-width="1.3" />
<line x1="321.2" y1="610.5" x2="314.3" y2="610.5" stroke="#111" stroke-width="1.3" />
<line x1="48.4" y1="593.5" x2="55.3" y2="593.5" stroke="#111" stroke-width="1.3" />
<line x1="321.2" y1="593.5" x2="314.3" y2="593.5" stroke="#111" stroke-width="1.3" />
<line x1="48.4" y1="576.5" x2="61.7" y2="576.5" stroke="#111" stroke-width="1.3" />
<line x1="321.2" y1="576.5" x2="307.9" y2="576.5" stroke="#111" stroke-width="1.3" />
<line x1="48.4" y1="559.4" x2="55.3" y2="559.4" stroke="#111" stroke-width="1.3" />
<line x1="321.2" y1="559.4" x2="314.3" y2="559.4" stroke="#111" stroke-width="1.3" />
<line x1="48.4" y1="542.4" x2="55.3" y2="542.4" stroke="#111" stroke-width="1.3" />
<line x1="321.2" y1="542.4" x2="314.3" y2="542.4" stroke="#111" stroke-width="1.3" />
<line x1="48.4" y1="525.3" x2="55.3" y2="525.3" stroke="#111" stroke-width="1.3" />
<line x1="321.2" y1="525.3" x2="314.3" y2="525.3" stroke="#111" stroke-width="1.3" />
<line x1="48.4" y1="508.3" x2="55.3" y2="508.3" stroke="#111" stroke-width="1.3" />
<line x1="321.2" y1="508.3" x2="314.3" y2="508.3" stroke="#111" stroke-width="1.3" />
<line x1="48.4" y1="491.3" x2="61.7" y2="491.3" stroke="#111" stroke-width="1.3" />
<line x1="321.2" y1="491.3" x2="307.9" y2="491.3" stroke="#111" stroke-width="1.3" />
<line x1="48.4" y1="474.2" x2="55.3" y2="474.2" stroke="#111" stroke-width="1.3" />
<line x1="321.2" y1="474.2" x2="314.3" y2="474.2" stroke="#111" stroke-width="1.3" />
<line x1="48.4" y1="457.2" x2="55.3" y2="457.2" stroke="#111" stroke-width="1.3" />
<line x1="321.2" y1="457.2" x2="314.3" y2="457.2" stroke="#111" stroke-width="1.3" />
<line x1="48.4" y1="440.1" x2="55.3" y2="440.1" stroke="#111" stroke-width="1.3" />
<line x1="321.2" y1="440.1" x2="314.3" y2="440.1" stroke="#111" stroke-width="1.3" />
<line x1="48.4" y1="423.1" x2="55.3" y2="423.1" stroke="#111" stroke-width="1.3" />
<line x1="321.2" y1="423.1" x2="314.3" y2="423.1" stroke="#111" stroke-width="1.3" />
<line x1="48.4" y1="406.1" x2="61.7" y2="406.1" stroke="#111" stroke-width="1.3" />
<line x1="321.2" y1="406.1" x2="307.9" y2="406.1" stroke="#111" stroke-width="1.3" />
<line x1="48.4" y1="389.0" x2="55.3" y2="389.0" stroke="#111" stroke-width="1.3" />
<line x1="321.2" y1="389.0" x2="314.3" y2="389.0" stroke="#111" stroke-width="1.3" />
<rect x="48.4" y="372" width="272.8" height="272.6" fill="none" stroke="#111" stroke-width="1.4"/>
<text x="87.3" y="660.3" font-family="Liberation Sans, sans-serif" font-size="10.3" text-anchor="middle" font-weight="normal" font-style="normal" fill="#111" >.1</text>
<text x="189.2" y="660.3" font-family="Liberation Sans, sans-serif" font-size="10.3" text-anchor="middle" font-weight="normal" font-style="normal" fill="#111" >1</text>
<text x="290.1" y="660.3" font-family="Liberation Sans, sans-serif" font-size="10.3" text-anchor="middle" font-weight="normal" font-style="normal" fill="#111" >10</text>
<text x="39.4" y="631.5" font-family="Liberation Sans, sans-serif" font-size="10.3" text-anchor="end" font-weight="normal" font-style="normal" fill="#111" >0.02</text>
<text x="39.4" y="597.4" font-family="Liberation Sans, sans-serif" font-size="10.3" text-anchor="end" font-weight="normal" font-style="normal" fill="#111" >0.04</text>
<text x="39.4" y="563.3" font-family="Liberation Sans, sans-serif" font-size="10.3" text-anchor="end" font-weight="normal" font-style="normal" fill="#111" >0.06</text>
<text x="39.4" y="529.2" font-family="Liberation Sans, sans-serif" font-size="10.3" text-anchor="end" font-weight="normal" font-style="normal" fill="#111" >0.08</text>
<text x="39.4" y="495.2" font-family="Liberation Sans, sans-serif" font-size="10.3" text-anchor="end" font-weight="normal" font-style="normal" fill="#111" >0.10</text>
<text x="39.4" y="461.1" font-family="Liberation Sans, sans-serif" font-size="10.3" text-anchor="end" font-weight="normal" font-style="normal" fill="#111" >0.12</text>
<text x="39.4" y="427.0" font-family="Liberation Sans, sans-serif" font-size="10.3" text-anchor="end" font-weight="normal" font-style="normal" fill="#111" >0.14</text>
<text x="39.4" y="392.9" font-family="Liberation Sans, sans-serif" font-size="10.3" text-anchor="end" font-weight="normal" font-style="normal" fill="#111" >0.16</text>
<path d="M192.2 399.6L197.6 390.4L186.8 390.4Z" fill="#ffffff" stroke="#111" stroke-width="1.25"/>
<rect x="190.1" y="381.8" width="10.4" height="10.4" fill="#ffffff" stroke="#111" stroke-width="1.25"/>
<path d="M191.5 414.5L197.8 425.0L185.2 425.0Z" fill="#ffffff" stroke="#111" stroke-width="1.25"/>
<path d="M271.0 413.5L276.4 404.3L265.6 404.3Z" fill="#ffffff" stroke="#111" stroke-width="1.25"/>
<path d="M261.6 439.1L266.2 446.7L261.6 454.3L257.0 446.7Z" fill="#ffffff" stroke="#111" stroke-width="1.25"/>
<path d="M250.8 464.4L255.4 472.0L250.8 479.6L246.2 472.0Z" fill="#ffffff" stroke="#111" stroke-width="1.25"/>
<path d="M248.2 483.3L252.8 490.9L248.2 498.5L243.6 490.9Z" fill="#ffffff" stroke="#111" stroke-width="1.25"/>
<path d="M183.2 473.3L188.6 464.1L177.8 464.1Z" fill="#8e3b3b" stroke="#111" stroke-width="1.25"/>
<circle cx="189.7" cy="496.4" r="5.4" fill="#ffffff" stroke="#111" stroke-width="1.25"/>
<path d="M160.7 440.4L165.3 448.0L160.7 455.6L156.1 448.0Z" fill="#f58b3c" stroke="#111" stroke-width="1.25"/>
<circle cx="152.1" cy="456.8" r="5.4" fill="#e0342a" stroke="#111" stroke-width="1.25"/>
<path d="M140.8 465.6L145.4 473.2L140.8 480.8L136.2 473.2Z" fill="#f58b3c" stroke="#111" stroke-width="1.25"/>
<path d="M137.5 479.5L142.1 487.1L137.5 494.7L132.9 487.1Z" fill="#f58b3c" stroke="#111" stroke-width="1.25"/>
<path d="M135.0 482.0L139.6 489.6L135.0 497.2L130.4 489.6Z" fill="#f58b3c" stroke="#111" stroke-width="1.25"/>
<path d="M109.0 472.0L115.2 482.5L102.8 482.5Z" fill="#9fcc38" stroke="#111" stroke-width="1.25"/>
<path d="M88.3 482.1L94.5 492.6L82.0 492.6Z" fill="#9fcc38" stroke="#111" stroke-width="1.25"/>
<path d="M167.5 475.7L172.1 483.3L167.5 490.9L162.9 483.3Z" fill="#f58b3c" stroke="#111" stroke-width="1.25"/>
<path d="M165.0 483.4L169.6 491.0L165.0 498.6L160.4 491.0Z" fill="#f58b3c" stroke="#111" stroke-width="1.25"/>
<path d="M173.8 482.0L178.4 489.6L173.8 497.2L169.2 489.6Z" fill="#f58b3c" stroke="#111" stroke-width="1.25"/>
<path d="M165.0 507.1L170.4 497.9L159.6 497.9Z" fill="#8e3b3b" stroke="#111" stroke-width="1.25"/>
<path d="M78.7 515.1L85.0 525.6L72.5 525.6Z" fill="#9fcc38" stroke="#111" stroke-width="1.25"/>
<path d="M106.0 531.4L110.6 539.0L106.0 546.6L101.4 539.0Z" fill="#f58b3c" stroke="#111" stroke-width="1.25"/>
<rect x="87.4" y="560.6" width="10.4" height="10.4" fill="#d6f2f3" stroke="#111" stroke-width="1.25"/>
<circle cx="100.2" cy="571.3" r="5.4" fill="#e0342a" stroke="#111" stroke-width="1.25"/>
<rect x="87.4" y="576.2" width="10.4" height="10.4" fill="#d6f2f3" stroke="#111" stroke-width="1.25"/>
<path d="M95.9 574.4L102.2 584.9L89.7 584.9Z" fill="#9fcc38" stroke="#111" stroke-width="1.25"/>
<circle cx="65.1" cy="584.7" r="5.4" fill="#e0342a" stroke="#111" stroke-width="1.25"/>
<circle cx="72.4" cy="581.4" r="5.4" fill="#e0342a" stroke="#111" stroke-width="1.25"/>
<circle cx="83.8" cy="589.7" r="5.4" fill="#e0342a" stroke="#111" stroke-width="1.25"/>
<path d="M156.4 549.7L162.7 560.2L150.2 560.2Z" fill="#ffffff" stroke="#111" stroke-width="1.25"/>
<circle cx="156.4" cy="553.7" r="5.4" fill="#e0342a" stroke="#111" stroke-width="1.25"/>
<circle cx="152.1" cy="585.2" r="5.4" fill="#e0342a" stroke="#111" stroke-width="1.25"/>
<rect x="142.4" y="588.3" width="10.4" height="10.4" fill="#d6f2f3" stroke="#111" stroke-width="1.25"/>
<circle cx="157.7" cy="596.6" r="5.4" fill="#e0342a" stroke="#111" stroke-width="1.25"/>
<rect x="138.1" y="598.4" width="10.4" height="10.4" fill="#d6f2f3" stroke="#111" stroke-width="1.25"/>
<rect x="158.3" y="622.4" width="10.4" height="10.4" fill="#d6f2f3" stroke="#111" stroke-width="1.25"/>
<rect x="275.3" y="516.9" width="10.4" height="10.4" fill="#ffffff" stroke="#111" stroke-width="1.25"/>
<rect x="187.6" y="525.0" width="10.4" height="10.4" fill="#ffffff" stroke="#111" stroke-width="1.25"/>
<path d="M202.8 529.7L209.1 540.2L196.6 540.2Z" fill="#ffffff" stroke="#111" stroke-width="1.25"/>
<rect x="194.6" y="545.2" width="10.4" height="10.4" fill="#ffffff" stroke="#111" stroke-width="1.25"/>
<path d="M202.3 544.1L208.6 554.6L196.1 554.6Z" fill="#ffffff" stroke="#111" stroke-width="1.25"/>
<path d="M175.6 539.0L181.8 549.5L169.3 549.5Z" fill="#9fcc38" stroke="#111" stroke-width="1.25"/>
<path d="M241.4 547.8L246.0 555.4L241.4 563.0L236.8 555.4Z" fill="#ffffff" stroke="#111" stroke-width="1.25"/>
<circle cx="253.8" cy="549.1" r="5.4" fill="#ffffff" stroke="#111" stroke-width="1.25"/>
<circle cx="289.4" cy="564.5" r="5.4" fill="#ffffff" stroke="#111" stroke-width="1.25"/>
<circle cx="262.9" cy="578.4" r="5.4" fill="#ffffff" stroke="#111" stroke-width="1.25"/>
<circle cx="254.6" cy="581.4" r="5.4" fill="#ffffff" stroke="#111" stroke-width="1.25"/>
<circle cx="242.7" cy="586.5" r="5.4" fill="#ffffff" stroke="#111" stroke-width="1.25"/>
<circle cx="238.9" cy="588.5" r="5.4" fill="#ffffff" stroke="#111" stroke-width="1.25"/>
<path d="M220.5 587.7L225.1 595.3L220.5 602.9L215.9 595.3Z" fill="#ffffff" stroke="#111" stroke-width="1.25"/>
<circle cx="275.2" cy="612.2" r="5.4" fill="#ffffff" stroke="#111" stroke-width="1.25"/>
<path d="M176.4 579.7L181.8 570.5L171.0 570.5Z" fill="#8e3b3b" stroke="#111" stroke-width="1.25"/>
<path d="M172.6 572.6L177.2 580.2L172.6 587.8L168.0 580.2Z" fill="#f58b3c" stroke="#111" stroke-width="1.25"/>
<rect x="166.1" y="591.4" width="10.4" height="10.4" fill="#d6f2f3" stroke="#111" stroke-width="1.25"/>
<rect x="50.6" y="374.4" width="103.8" height="66" rx="1.5" fill="#f5f5f5" stroke="#3a3a3a" stroke-width="1.1"/>
<rect x="56.2" y="379.8" width="7.9" height="7.9" fill="#c6eeee" stroke="#111" stroke-width="1.25"/>
<circle cx="60.2" cy="395.8" r="4.1" fill="#e0342a" stroke="#111" stroke-width="1.25"/>
<path d="M60.2 401.7L63.9 407.6L60.2 413.5L56.5 407.6Z" fill="#f58b3c" stroke="#111" stroke-width="1.25"/>
<path d="M60.2 414.9L65.4 423.5L55.0 423.5Z" fill="#9fcc38" stroke="#111" stroke-width="1.25"/>
<path d="M60.2 436.4L65.3 427.6L55.1 427.6Z" fill="#8e3b3b" stroke="#111" stroke-width="1.25"/>
<text x="71.9" y="387.5" font-family="Liberation Sans, sans-serif" font-size="10.7" text-anchor="start" font-weight="bold" font-style="normal" fill="#111" >Lace ~3 Ga</text>
<text x="71.9" y="399.6" font-family="Liberation Sans, sans-serif" font-size="10.7" text-anchor="start" font-weight="bold" font-style="normal" fill="#111" >Orapa ~3 Ga</text>
<text x="71.9" y="411.7" font-family="Liberation Sans, sans-serif" font-size="10.7" text-anchor="start" font-weight="bold" font-style="normal" fill="#111" >Koidu ~2.7 Ga?</text>
<text x="71.9" y="423.8" font-family="Liberation Sans, sans-serif" font-size="10.7" text-anchor="start" font-weight="bold" font-style="normal" fill="#111" >N. Slave ~2 Ga</text>
<text x="71.9" y="435.9" font-family="Liberation Sans, sans-serif" font-size="10.7" text-anchor="start" font-weight="bold" font-style="normal" fill="#111" >C. Slave ~2 Ga</text>
<line x1="129.0" y1="351.5" x2="187.2" y2="351.5" stroke="#111" stroke-width="1.9" />
<path d="M120.6 351.5L131.2 346.8L131.2 356.2Z" fill="#111"/>
<line x1="191.5" y1="351.5" x2="251.0" y2="351.5" stroke="#111" stroke-width="1.9" />
<path d="M259.3 351.5L248.7 346.8L248.7 356.2Z" fill="#111"/>
<text x="158.3" y="363.4" font-family="Liberation Sans, sans-serif" font-size="10.4" text-anchor="middle" font-weight="normal" font-style="italic" fill="#111" >Depleted</text>
<text x="218.6" y="363.4" font-family="Liberation Sans, sans-serif" font-size="10.4" text-anchor="middle" font-weight="normal" font-style="italic" fill="#111" >Enriched</text>
<text x="298.2" y="627.2" font-family="Liberation Sans, sans-serif" font-size="25.4" text-anchor="middle" font-weight="normal" font-style="normal" fill="#111" stroke="#111" stroke-width="0.35">c</text>
<text x="121" y="673.8" font-family="Liberation Sans, sans-serif" font-size="12.65" fill="#111">Whole-rock Ce/Yb<tspan font-size="7.3" dy="2.5">NMORB</tspan></text>
<text transform="translate(11.6,507.6) rotate(-90)" font-family="Liberation Sans, sans-serif" font-size="12.65" text-anchor="middle" fill="#111">Whole-rock Fe<tspan font-size="6.8" dy="-5.5">3+</tspan><tspan dy="5.5">/ΣFe</tspan><tspan font-size="7.5" dy="2.5">calc</tspan></text>
<clipPath id="clipd"><rect x="374.9" y="371.6" width="272.9" height="272.69999999999993"/></clipPath>
<path d="M421 536H634.2V544.8H421A4.4 4.4 0 0 1 421 536Z" fill="#e0342a"/>
<line x1="546" y1="500.6" x2="546" y2="618.5" stroke="#e0342a" stroke-width="8" stroke-linecap="round"/>
<line x1="516.0" y1="371.6" x2="516.0" y2="644.3" stroke="#111" stroke-width="2.2" stroke-dasharray="2.1 2.2"/>
<line x1="384.6" y1="371.6" x2="384.6" y2="378.5" stroke="#111" stroke-width="1.3" />
<line x1="384.6" y1="644.3" x2="384.6" y2="637.4" stroke="#111" stroke-width="1.3" />
<line x1="392.6" y1="371.6" x2="392.6" y2="378.5" stroke="#111" stroke-width="1.3" />
<line x1="392.6" y1="644.3" x2="392.6" y2="637.4" stroke="#111" stroke-width="1.3" />
<line x1="399.4" y1="371.6" x2="399.4" y2="378.5" stroke="#111" stroke-width="1.3" />
<line x1="399.4" y1="644.3" x2="399.4" y2="637.4" stroke="#111" stroke-width="1.3" />
<line x1="405.2" y1="371.6" x2="405.2" y2="378.5" stroke="#111" stroke-width="1.3" />
<line x1="405.2" y1="644.3" x2="405.2" y2="637.4" stroke="#111" stroke-width="1.3" />
<line x1="410.4" y1="371.6" x2="410.4" y2="378.5" stroke="#111" stroke-width="1.3" />
<line x1="410.4" y1="644.3" x2="410.4" y2="637.4" stroke="#111" stroke-width="1.3" />
<line x1="415.0" y1="371.6" x2="415.0" y2="384.9" stroke="#111" stroke-width="1.3" />
<line x1="415.0" y1="644.3" x2="415.0" y2="631.0" stroke="#111" stroke-width="1.3" />
<line x1="445.4" y1="371.6" x2="445.4" y2="378.5" stroke="#111" stroke-width="1.3" />
<line x1="445.4" y1="644.3" x2="445.4" y2="637.4" stroke="#111" stroke-width="1.3" />
<line x1="463.2" y1="371.6" x2="463.2" y2="378.5" stroke="#111" stroke-width="1.3" />
<line x1="463.2" y1="644.3" x2="463.2" y2="637.4" stroke="#111" stroke-width="1.3" />
<line x1="475.8" y1="371.6" x2="475.8" y2="378.5" stroke="#111" stroke-width="1.3" />
<line x1="475.8" y1="644.3" x2="475.8" y2="637.4" stroke="#111" stroke-width="1.3" />
<line x1="485.6" y1="371.6" x2="485.6" y2="378.5" stroke="#111" stroke-width="1.3" />
<line x1="485.6" y1="644.3" x2="485.6" y2="637.4" stroke="#111" stroke-width="1.3" />
<line x1="493.6" y1="371.6" x2="493.6" y2="378.5" stroke="#111" stroke-width="1.3" />
<line x1="493.6" y1="644.3" x2="493.6" y2="637.4" stroke="#111" stroke-width="1.3" />
<line x1="500.4" y1="371.6" x2="500.4" y2="378.5" stroke="#111" stroke-width="1.3" />
<line x1="500.4" y1="644.3" x2="500.4" y2="637.4" stroke="#111" stroke-width="1.3" />
<line x1="506.2" y1="371.6" x2="506.2" y2="378.5" stroke="#111" stroke-width="1.3" />
<line x1="506.2" y1="644.3" x2="506.2" y2="637.4" stroke="#111" stroke-width="1.3" />
<line x1="511.4" y1="371.6" x2="511.4" y2="378.5" stroke="#111" stroke-width="1.3" />
<line x1="511.4" y1="644.3" x2="511.4" y2="637.4" stroke="#111" stroke-width="1.3" />
<line x1="516.0" y1="371.6" x2="516.0" y2="384.9" stroke="#111" stroke-width="1.3" />
<line x1="516.0" y1="644.3" x2="516.0" y2="631.0" stroke="#111" stroke-width="1.3" />
<line x1="546.4" y1="371.6" x2="546.4" y2="378.5" stroke="#111" stroke-width="1.3" />
<line x1="546.4" y1="644.3" x2="546.4" y2="637.4" stroke="#111" stroke-width="1.3" />
<line x1="564.2" y1="371.6" x2="564.2" y2="378.5" stroke="#111" stroke-width="1.3" />
<line x1="564.2" y1="644.3" x2="564.2" y2="637.4" stroke="#111" stroke-width="1.3" />
<line x1="576.8" y1="371.6" x2="576.8" y2="378.5" stroke="#111" stroke-width="1.3" />
<line x1="576.8" y1="644.3" x2="576.8" y2="637.4" stroke="#111" stroke-width="1.3" />
<line x1="586.6" y1="371.6" x2="586.6" y2="378.5" stroke="#111" stroke-width="1.3" />
<line x1="586.6" y1="644.3" x2="586.6" y2="637.4" stroke="#111" stroke-width="1.3" />
<line x1="594.6" y1="371.6" x2="594.6" y2="378.5" stroke="#111" stroke-width="1.3" />
<line x1="594.6" y1="644.3" x2="594.6" y2="637.4" stroke="#111" stroke-width="1.3" />
<line x1="601.4" y1="371.6" x2="601.4" y2="378.5" stroke="#111" stroke-width="1.3" />
<line x1="601.4" y1="644.3" x2="601.4" y2="637.4" stroke="#111" stroke-width="1.3" />
<line x1="607.2" y1="371.6" x2="607.2" y2="378.5" stroke="#111" stroke-width="1.3" />
<line x1="607.2" y1="644.3" x2="607.2" y2="637.4" stroke="#111" stroke-width="1.3" />
<line x1="612.4" y1="371.6" x2="612.4" y2="378.5" stroke="#111" stroke-width="1.3" />
<line x1="612.4" y1="644.3" x2="612.4" y2="637.4" stroke="#111" stroke-width="1.3" />
<line x1="617.0" y1="371.6" x2="617.0" y2="384.9" stroke="#111" stroke-width="1.3" />
<line x1="617.0" y1="644.3" x2="617.0" y2="631.0" stroke="#111" stroke-width="1.3" />
<line x1="374.9" y1="620.6" x2="381.8" y2="620.6" stroke="#111" stroke-width="1.3" />
<line x1="647.8" y1="620.6" x2="640.9" y2="620.6" stroke="#111" stroke-width="1.3" />
<line x1="374.9" y1="596.9" x2="381.8" y2="596.9" stroke="#111" stroke-width="1.3" />
<line x1="647.8" y1="596.9" x2="640.9" y2="596.9" stroke="#111" stroke-width="1.3" />
<line x1="374.9" y1="573.2" x2="381.8" y2="573.2" stroke="#111" stroke-width="1.3" />
<line x1="647.8" y1="573.2" x2="640.9" y2="573.2" stroke="#111" stroke-width="1.3" />
<line x1="374.9" y1="549.4" x2="388.2" y2="549.4" stroke="#111" stroke-width="1.3" />
<line x1="647.8" y1="549.4" x2="634.5" y2="549.4" stroke="#111" stroke-width="1.3" />
<line x1="374.9" y1="525.7" x2="381.8" y2="525.7" stroke="#111" stroke-width="1.3" />
<line x1="647.8" y1="525.7" x2="640.9" y2="525.7" stroke="#111" stroke-width="1.3" />
<line x1="374.9" y1="502.0" x2="381.8" y2="502.0" stroke="#111" stroke-width="1.3" />
<line x1="647.8" y1="502.0" x2="640.9" y2="502.0" stroke="#111" stroke-width="1.3" />
<line x1="374.9" y1="478.3" x2="381.8" y2="478.3" stroke="#111" stroke-width="1.3" />
<line x1="647.8" y1="478.3" x2="640.9" y2="478.3" stroke="#111" stroke-width="1.3" />
<line x1="374.9" y1="454.6" x2="381.8" y2="454.6" stroke="#111" stroke-width="1.3" />
<line x1="647.8" y1="454.6" x2="640.9" y2="454.6" stroke="#111" stroke-width="1.3" />
<line x1="374.9" y1="430.9" x2="388.2" y2="430.9" stroke="#111" stroke-width="1.3" />
<line x1="647.8" y1="430.9" x2="634.5" y2="430.9" stroke="#111" stroke-width="1.3" />
<line x1="374.9" y1="407.2" x2="381.8" y2="407.2" stroke="#111" stroke-width="1.3" />
<line x1="647.8" y1="407.2" x2="640.9" y2="407.2" stroke="#111" stroke-width="1.3" />
<line x1="374.9" y1="383.5" x2="381.8" y2="383.5" stroke="#111" stroke-width="1.3" />
<line x1="647.8" y1="383.5" x2="640.9" y2="383.5" stroke="#111" stroke-width="1.3" />
<g clip-path="url(#clipd)">
<rect x="463.5" y="376.4" width="10.4" height="10.4" fill="#d6f2f3" stroke="#111" stroke-width="1.25"/>
<path d="M404.9 410.6L409.5 418.2L404.9 425.8L400.3 418.2Z" fill="#f58b3c" stroke="#111" stroke-width="1.25"/>
<path d="M405.3 454.0L411.6 464.5L399.1 464.5Z" fill="#9fcc38" stroke="#111" stroke-width="1.25"/>
<path d="M422.9 448.4L427.5 456.0L422.9 463.6L418.3 456.0Z" fill="#ffffff" stroke="#111" stroke-width="1.25"/>
<path d="M433.0 457.4L439.2 467.9L426.8 467.9Z" fill="#9fcc38" stroke="#111" stroke-width="1.25"/>
<circle cx="422.6" cy="468.9" r="5.4" fill="#e0342a" stroke="#111" stroke-width="1.25"/>
<path d="M399.1 474.8L403.7 482.4L399.1 490.0L394.5 482.4Z" fill="#f58b3c" stroke="#111" stroke-width="1.25"/>
<path d="M405.6 474.8L410.2 482.4L405.6 490.0L401.0 482.4Z" fill="#f58b3c" stroke="#111" stroke-width="1.25"/>
<path d="M433.9 472.2L438.5 479.8L433.9 487.4L429.3 479.8Z" fill="#f58b3c" stroke="#111" stroke-width="1.25"/>
<path d="M429.7 472.8L434.3 480.4L429.7 488.0L425.1 480.4Z" fill="#ffffff" stroke="#111" stroke-width="1.25"/>
<path d="M422.9 488.0L429.1 498.5L416.6 498.5Z" fill="#9fcc38" stroke="#111" stroke-width="1.25"/>
<circle cx="384.3" cy="496.9" r="5.4" fill="#e0342a" stroke="#111" stroke-width="1.25"/>
<path d="M410.3 490.9L414.9 498.5L410.3 506.1L405.7 498.5Z" fill="#f58b3c" stroke="#111" stroke-width="1.25"/>
<path d="M435.2 495.6L441.4 506.1L428.9 506.1Z" fill="#9fcc38" stroke="#111" stroke-width="1.25"/>
<rect x="413.9" y="500.9" width="10.4" height="10.4" fill="#d6f2f3" stroke="#111" stroke-width="1.25"/>
<path d="M471.2 436.6L475.8 444.2L471.2 451.8L466.6 444.2Z" fill="#f58b3c" stroke="#111" stroke-width="1.25"/>
<path d="M485.6 440.0L490.2 447.6L485.6 455.2L481.0 447.6Z" fill="#f58b3c" stroke="#111" stroke-width="1.25"/>
<path d="M464.7 451.7L469.3 459.3L464.7 466.9L460.1 459.3Z" fill="#f58b3c" stroke="#111" stroke-width="1.25"/>
<path d="M493.1 449.2L497.7 456.8L493.1 464.4L488.5 456.8Z" fill="#f58b3c" stroke="#111" stroke-width="1.25"/>
<path d="M494.5 460.2L499.1 467.8L494.5 475.4L489.9 467.8Z" fill="#f58b3c" stroke="#111" stroke-width="1.25"/>
<path d="M474.8 466.9L479.4 474.5L474.8 482.1L470.2 474.5Z" fill="#f58b3c" stroke="#111" stroke-width="1.25"/>
<path d="M513.0 456.8L517.6 464.4L513.0 472.0L508.4 464.4Z" fill="#f58b3c" stroke="#111" stroke-width="1.25"/>
<path d="M523.4 461.0L528.0 468.6L523.4 476.2L518.8 468.6Z" fill="#ffffff" stroke="#111" stroke-width="1.25"/>
<path d="M523.4 463.5L528.0 471.1L523.4 478.7L518.8 471.1Z" fill="#ffffff" stroke="#111" stroke-width="1.25"/>
<path d="M486.9 473.6L491.5 481.2L486.9 488.8L482.3 481.2Z" fill="#f58b3c" stroke="#111" stroke-width="1.25"/>
<path d="M488.6 470.2L493.2 477.8L488.6 485.4L484.0 477.8Z" fill="#ffffff" stroke="#111" stroke-width="1.25"/>
<path d="M499.0 472.8L503.6 480.4L499.0 488.0L494.4 480.4Z" fill="#f58b3c" stroke="#111" stroke-width="1.25"/>
<path d="M501.5 479.5L506.1 487.1L501.5 494.7L496.9 487.1Z" fill="#f58b3c" stroke="#111" stroke-width="1.25"/>
<path d="M496.2 482.9L500.8 490.5L496.2 498.1L491.6 490.5Z" fill="#f58b3c" stroke="#111" stroke-width="1.25"/>
<path d="M490.3 484.5L494.9 492.1L490.3 499.7L485.7 492.1Z" fill="#f58b3c" stroke="#111" stroke-width="1.25"/>
<path d="M504.6 487.9L509.2 495.5L504.6 503.1L500.0 495.5Z" fill="#f58b3c" stroke="#111" stroke-width="1.25"/>
<rect x="521.2" y="477.7" width="10.4" height="10.4" fill="#ffffff" stroke="#111" stroke-width="1.25"/>
<path d="M510.1 496.9L515.5 487.7L504.7 487.7Z" fill="#8e3b3b" stroke="#111" stroke-width="1.25"/>
<path d="M519.7 487.9L524.3 495.5L519.7 503.1L515.1 495.5Z" fill="#ffffff" stroke="#111" stroke-width="1.25"/>
<path d="M529.0 492.7L535.2 503.2L522.8 503.2Z" fill="#ffffff" stroke="#111" stroke-width="1.25"/>
<path d="M539.1 483.7L543.7 491.3L539.1 498.9L534.5 491.3Z" fill="#ffffff" stroke="#111" stroke-width="1.25"/>
<path d="M548.6 506.1L554.0 496.9L543.2 496.9Z" fill="none" stroke="#111" stroke-width="1.25"/>
<rect x="543.4" y="489.1" width="10.4" height="10.4" fill="#ffffff" stroke="#111" stroke-width="1.25"/>
<path d="M458.6 489.2L463.2 496.8L458.6 504.4L454.0 496.8Z" fill="#f58b3c" stroke="#111" stroke-width="1.25"/>
<rect x="450.0" y="483.1" width="10.4" height="10.4" fill="#d6f2f3" stroke="#111" stroke-width="1.25"/>
<rect x="450.0" y="499.9" width="10.4" height="10.4" fill="#d6f2f3" stroke="#111" stroke-width="1.25"/>
<path d="M467.5 487.1L472.1 494.7L467.5 502.3L462.9 494.7Z" fill="#f58b3c" stroke="#111" stroke-width="1.25"/>
<rect x="476.7" y="490.6" width="10.4" height="10.4" fill="#d6f2f3" stroke="#111" stroke-width="1.25"/>
<circle cx="478.6" cy="496.4" r="5.4" fill="#e0342a" stroke="#111" stroke-width="1.25"/>
<path d="M493.6 493.4L499.9 503.9L487.4 503.9Z" fill="#9fcc38" stroke="#111" stroke-width="1.25"/>
<circle cx="399.1" cy="512.0" r="5.4" fill="#e0342a" stroke="#111" stroke-width="1.25"/>
<path d="M438.1 503.9L442.7 511.5L438.1 519.1L433.5 511.5Z" fill="#f58b3c" stroke="#111" stroke-width="1.25"/>
<path d="M445.6 504.4L450.2 512.0L445.6 519.6L441.0 512.0Z" fill="#f58b3c" stroke="#111" stroke-width="1.25"/>
<path d="M438.1 511.5L442.7 519.1L438.1 526.7L433.5 519.1Z" fill="#f58b3c" stroke="#111" stroke-width="1.25"/>
<path d="M462.5 503.0L467.1 510.6L462.5 518.2L457.9 510.6Z" fill="#f58b3c" stroke="#111" stroke-width="1.25"/>
<path d="M470.0 498.0L474.6 505.6L470.0 513.2L465.4 505.6Z" fill="#f58b3c" stroke="#111" stroke-width="1.25"/>
<path d="M465.0 504.7L469.6 512.3L465.0 519.9L460.4 512.3Z" fill="#f58b3c" stroke="#111" stroke-width="1.25"/>
<path d="M472.6 511.5L477.2 519.1L472.6 526.7L468.0 519.1Z" fill="#f58b3c" stroke="#111" stroke-width="1.25"/>
<path d="M459.1 519.9L463.7 527.5L459.1 535.1L454.5 527.5Z" fill="#f58b3c" stroke="#111" stroke-width="1.25"/>
<path d="M462.5 514.8L467.1 522.4L462.5 530.0L457.9 522.4Z" fill="#f58b3c" stroke="#111" stroke-width="1.25"/>
<path d="M494.5 501.4L499.1 509.0L494.5 516.6L489.9 509.0Z" fill="#f58b3c" stroke="#111" stroke-width="1.25"/>
<path d="M499.0 507.4L503.6 515.0L499.0 522.6L494.4 515.0Z" fill="#f58b3c" stroke="#111" stroke-width="1.25"/>
<path d="M495.3 512.3L499.9 519.9L495.3 527.5L490.7 519.9Z" fill="#f58b3c" stroke="#111" stroke-width="1.25"/>
<path d="M477.7 515.7L483.1 506.5L472.3 506.5Z" fill="#8e3b3b" stroke="#111" stroke-width="1.25"/>
<circle cx="478.8" cy="515.7" r="5.4" fill="#e0342a" stroke="#111" stroke-width="1.25"/>
<circle cx="482.7" cy="522.4" r="5.4" fill="#e0342a" stroke="#111" stroke-width="1.25"/>
<path d="M504.1 527.0L509.5 517.8L498.7 517.8Z" fill="#8e3b3b" stroke="#111" stroke-width="1.25"/>
<rect x="500.2" y="523.1" width="10.4" height="10.4" fill="#d6f2f3" stroke="#111" stroke-width="1.25"/>
<path d="M531.5 513.1L536.1 520.7L531.5 528.3L526.9 520.7Z" fill="#ffffff" stroke="#111" stroke-width="1.25"/>
<path d="M415.0 518.3L421.2 528.8L408.8 528.8Z" fill="#9fcc38" stroke="#111" stroke-width="1.25"/>
<circle cx="392.3" cy="528.3" r="5.4" fill="#e0342a" stroke="#111" stroke-width="1.25"/>
<circle cx="426.3" cy="529.5" r="5.4" fill="#e0342a" stroke="#111" stroke-width="1.25"/>
<path d="M449.9 529.1L454.5 536.7L449.9 544.3L445.3 536.7Z" fill="#f58b3c" stroke="#111" stroke-width="1.25"/>
<path d="M452.4 531.6L457.0 539.2L452.4 546.8L447.8 539.2Z" fill="#f58b3c" stroke="#111" stroke-width="1.25"/>
<rect x="413.9" y="539.9" width="10.4" height="10.4" fill="#d6f2f3" stroke="#111" stroke-width="1.25"/>
<rect x="440.1" y="538.2" width="10.4" height="10.4" fill="#d6f2f3" stroke="#111" stroke-width="1.25"/>
<rect x="461.5" y="538.2" width="10.4" height="10.4" fill="#d6f2f3" stroke="#111" stroke-width="1.25"/>
<rect x="471.6" y="532.4" width="10.4" height="10.4" fill="#d6f2f3" stroke="#111" stroke-width="1.25"/>
<rect x="473.3" y="534.9" width="10.4" height="10.4" fill="#d6f2f3" stroke="#111" stroke-width="1.25"/>
<rect x="460.7" y="538.2" width="10.4" height="10.4" fill="#d6f2f3" stroke="#111" stroke-width="1.25"/>
<rect x="497.2" y="531.5" width="10.4" height="10.4" fill="#d6f2f3" stroke="#111" stroke-width="1.25"/>
<path d="M490.8 546.9L496.2 537.7L485.4 537.7Z" fill="#8e3b3b" stroke="#111" stroke-width="1.25"/>
<path d="M502.4 536.0L508.6 546.5L496.1 546.5Z" fill="#9fcc38" stroke="#111" stroke-width="1.25"/>
<rect x="516.7" y="536.6" width="10.4" height="10.4" fill="#ffffff" stroke="#111" stroke-width="1.25"/>
<circle cx="518.0" cy="535.9" r="5.4" fill="#ffffff" stroke="#111" stroke-width="1.25"/>
<path d="M543.6 527.6L549.9 538.1L537.4 538.1Z" fill="#ffffff" stroke="#111" stroke-width="1.25"/>
<circle cx="541.6" cy="538.4" r="5.4" fill="#ffffff" stroke="#111" stroke-width="1.25"/>
<path d="M550.0 529.1L554.6 536.7L550.0 544.3L545.4 536.7Z" fill="#ffffff" stroke="#111" stroke-width="1.25"/>
<circle cx="580.6" cy="487.4" r="5.4" fill="#ffffff" stroke="#111" stroke-width="1.25"/>
<path d="M597.5 512.6L602.9 503.4L592.1 503.4Z" fill="#ffffff" stroke="#111" stroke-width="1.25"/>
<circle cx="568.8" cy="518.8" r="5.4" fill="#ffffff" stroke="#111" stroke-width="1.25"/>
<circle cx="581.5" cy="517.1" r="5.4" fill="#ffffff" stroke="#111" stroke-width="1.25"/>
<path d="M576.0 513.4L580.6 521.0L576.0 528.6L571.4 521.0Z" fill="#ffffff" stroke="#111" stroke-width="1.25"/>
<circle cx="565.8" cy="525.4" r="5.4" fill="#ffffff" stroke="#111" stroke-width="1.25"/>
<path d="M577.5 519.1L582.1 526.7L577.5 534.3L572.9 526.7Z" fill="#ffffff" stroke="#111" stroke-width="1.25"/>
<rect x="601.6" y="516.7" width="10.4" height="10.4" fill="#ffffff" stroke="#111" stroke-width="1.25"/>
<circle cx="589.3" cy="537.6" r="5.4" fill="#ffffff" stroke="#111" stroke-width="1.25"/>
<rect x="627.7" y="532.4" width="10.4" height="10.4" fill="#ffffff" stroke="#111" stroke-width="1.25"/>
<rect x="535.1" y="551.5" width="10.4" height="10.4" fill="none" stroke="#111" stroke-width="1.25"/>
<circle cx="556.2" cy="572.8" r="5.4" fill="#ffffff" stroke="#111" stroke-width="1.25"/>
<circle cx="616.2" cy="572.8" r="5.4" fill="#ffffff" stroke="#111" stroke-width="1.25"/>
<path d="M564.9 579.5L569.5 587.1L564.9 594.7L560.3 587.1Z" fill="#ffffff" stroke="#111" stroke-width="1.25"/>
<rect x="544.7" y="597.5" width="10.4" height="10.4" fill="#ffffff" stroke="#111" stroke-width="1.25"/>
<circle cx="601.9" cy="609.2" r="5.4" fill="#ffffff" stroke="#111" stroke-width="1.25"/>
<rect x="534.8" y="615.3" width="10.4" height="10.4" fill="#ffffff" stroke="#111" stroke-width="1.25"/>
<path d="M561.8 399.5L566.4 407.1L561.8 414.7L557.2 407.1Z" fill="#ffffff" stroke="#111" stroke-width="1.25"/>
<path d="M547.0 414.7L551.6 422.3L547.0 429.9L542.4 422.3Z" fill="#ffffff" stroke="#111" stroke-width="1.25"/>
<path d="M588.3 409.8L592.9 417.4L588.3 425.0L583.7 417.4Z" fill="#ffffff" stroke="#111" stroke-width="1.25"/>
<circle cx="410.2" cy="560.9" r="5.4" fill="#e0342a" stroke="#111" stroke-width="1.25"/>
<rect x="414.1" y="573.5" width="10.4" height="10.4" fill="#d6f2f3" stroke="#111" stroke-width="1.25"/>
<path d="M419.3 569.1L425.6 579.6L413.1 579.6Z" fill="#9fcc38" stroke="#111" stroke-width="1.25"/>
<rect x="414.1" y="590.9" width="10.4" height="10.4" fill="#d6f2f3" stroke="#111" stroke-width="1.25"/>
<rect x="387.4" y="597.0" width="10.4" height="10.4" fill="#d6f2f3" stroke="#111" stroke-width="1.25"/>
<rect x="427.7" y="597.9" width="10.4" height="10.4" fill="#d6f2f3" stroke="#111" stroke-width="1.25"/>
<rect x="437.6" y="586.2" width="10.4" height="10.4" fill="#d6f2f3" stroke="#111" stroke-width="1.25"/>
<rect x="442.3" y="581.0" width="10.4" height="10.4" fill="#d6f2f3" stroke="#111" stroke-width="1.25"/>
<rect x="442.3" y="562.7" width="10.4" height="10.4" fill="#d6f2f3" stroke="#111" stroke-width="1.25"/>
<rect x="442.9" y="555.1" width="10.4" height="10.4" fill="#d6f2f3" stroke="#111" stroke-width="1.25"/>
<rect x="447.2" y="547.0" width="10.4" height="10.4" fill="#d6f2f3" stroke="#111" stroke-width="1.25"/>
<rect x="451.8" y="556.6" width="10.4" height="10.4" fill="#d6f2f3" stroke="#111" stroke-width="1.25"/>
<rect x="467.2" y="554.8" width="10.4" height="10.4" fill="#d6f2f3" stroke="#111" stroke-width="1.25"/>
<circle cx="484.6" cy="555.3" r="5.4" fill="#e0342a" stroke="#111" stroke-width="1.25"/>
<rect x="491.9" y="544.4" width="10.4" height="10.4" fill="#d6f2f3" stroke="#111" stroke-width="1.25"/>
<path d="M502.0 537.7L508.2 548.2L495.8 548.2Z" fill="#9fcc38" stroke="#111" stroke-width="1.25"/>
<circle cx="511.4" cy="557.4" r="5.4" fill="#e0342a" stroke="#111" stroke-width="1.25"/>
<circle cx="515.8" cy="554.8" r="5.4" fill="#e0342a" stroke="#111" stroke-width="1.25"/>
<path d="M521.5 545.5L526.1 553.1L521.5 560.7L516.9 553.1Z" fill="#ffffff" stroke="#111" stroke-width="1.25"/>
<rect x="529.0" y="548.0" width="10.4" height="10.4" fill="#ffffff" stroke="#111" stroke-width="1.25"/>
<path d="M531.1 553.4L537.4 563.9L524.9 563.9Z" fill="#ffffff" stroke="#111" stroke-width="1.25"/>
<circle cx="522.9" cy="561.8" r="5.4" fill="#ffffff" stroke="#111" stroke-width="1.25"/>
<rect x="484.9" y="566.2" width="10.4" height="10.4" fill="#d6f2f3" stroke="#111" stroke-width="1.25"/>
<path d="M482.8 568.2L489.1 578.7L476.6 578.7Z" fill="#9fcc38" stroke="#111" stroke-width="1.25"/>
<rect x="495.4" y="573.5" width="10.4" height="10.4" fill="#d6f2f3" stroke="#111" stroke-width="1.25"/>
<rect x="453.6" y="573.1" width="10.4" height="10.4" fill="#d6f2f3" stroke="#111" stroke-width="1.25"/>
<rect x="457.9" y="580.5" width="10.4" height="10.4" fill="#d6f2f3" stroke="#111" stroke-width="1.25"/>
<rect x="472.2" y="581.9" width="10.4" height="10.4" fill="#d6f2f3" stroke="#111" stroke-width="1.25"/>
<rect x="477.1" y="581.5" width="10.4" height="10.4" fill="#d6f2f3" stroke="#111" stroke-width="1.25"/>
<rect x="491.9" y="591.4" width="10.4" height="10.4" fill="#d6f2f3" stroke="#111" stroke-width="1.25"/>
<circle cx="503.2" cy="595.4" r="5.4" fill="#e0342a" stroke="#111" stroke-width="1.25"/>
<path d="M517.7 569.6L524.0 580.1L511.5 580.1Z" fill="#ffffff" stroke="#111" stroke-width="1.25"/>
<rect x="525.9" y="579.8" width="10.4" height="10.4" fill="#ffffff" stroke="#111" stroke-width="1.25"/>
<rect x="521.5" y="592.0" width="10.4" height="10.4" fill="#ffffff" stroke="#111" stroke-width="1.25"/>
<rect x="531.7" y="615.0" width="10.4" height="10.4" fill="#ffffff" stroke="#111" stroke-width="1.25"/>
<path d="M443.4 628.3L448.0 635.9L443.4 643.5L438.8 635.9Z" fill="#f58b3c" stroke="#111" stroke-width="1.25"/>
<rect x="464.0" y="577.5" width="10.4" height="10.4" fill="#d6f2f3" stroke="#111" stroke-width="1.25"/>
<path d="M458.4 544.7L464.6 555.2L452.1 555.2Z" fill="#9fcc38" stroke="#111" stroke-width="1.25"/>
</g>
<rect x="374.9" y="371.6" width="272.9" height="272.69999999999993" fill="none" stroke="#111" stroke-width="1.4"/>
<text x="413.5" y="660.3" font-family="Liberation Sans, sans-serif" font-size="10.3" text-anchor="middle" font-weight="normal" font-style="normal" fill="#111" >.1</text>
<text x="515.5" y="660.3" font-family="Liberation Sans, sans-serif" font-size="10.3" text-anchor="middle" font-weight="normal" font-style="normal" fill="#111" >1</text>
<text x="616.5" y="660.3" font-family="Liberation Sans, sans-serif" font-size="10.3" text-anchor="middle" font-weight="normal" font-style="normal" fill="#111" >10</text>
<text x="366.7" y="648.2" font-family="Liberation Sans, sans-serif" font-size="10.3" text-anchor="end" font-weight="normal" font-style="normal" fill="#111" >1</text>
<text x="366.7" y="624.5" font-family="Liberation Sans, sans-serif" font-size="10.3" text-anchor="end" font-weight="normal" font-style="normal" fill="#111" >2</text>
<text x="366.7" y="600.8" font-family="Liberation Sans, sans-serif" font-size="10.3" text-anchor="end" font-weight="normal" font-style="normal" fill="#111" >3</text>
<text x="366.7" y="577.1" font-family="Liberation Sans, sans-serif" font-size="10.3" text-anchor="end" font-weight="normal" font-style="normal" fill="#111" >4</text>
<text x="366.7" y="553.3" font-family="Liberation Sans, sans-serif" font-size="10.3" text-anchor="end" font-weight="normal" font-style="normal" fill="#111" >5</text>
<text x="366.7" y="529.6" font-family="Liberation Sans, sans-serif" font-size="10.3" text-anchor="end" font-weight="normal" font-style="normal" fill="#111" >6</text>
<text x="366.7" y="505.9" font-family="Liberation Sans, sans-serif" font-size="10.3" text-anchor="end" font-weight="normal" font-style="normal" fill="#111" >7</text>
<text x="366.7" y="482.2" font-family="Liberation Sans, sans-serif" font-size="10.3" text-anchor="end" font-weight="normal" font-style="normal" fill="#111" >8</text>
<text x="366.7" y="458.5" font-family="Liberation Sans, sans-serif" font-size="10.3" text-anchor="end" font-weight="normal" font-style="normal" fill="#111" >9</text>
<text x="366.7" y="434.8" font-family="Liberation Sans, sans-serif" font-size="10.3" text-anchor="end" font-weight="normal" font-style="normal" fill="#111" >10</text>
<text x="366.7" y="411.1" font-family="Liberation Sans, sans-serif" font-size="10.3" text-anchor="end" font-weight="normal" font-style="normal" fill="#111" >11</text>
<text x="366.7" y="387.4" font-family="Liberation Sans, sans-serif" font-size="10.3" text-anchor="end" font-weight="normal" font-style="normal" fill="#111" >12</text>
<text x="625.7" y="627.4" font-family="Liberation Sans, sans-serif" font-size="26" text-anchor="middle" font-weight="normal" font-style="normal" fill="#111" >d</text>
<text x="447.6" y="673.8" font-family="Liberation Sans, sans-serif" font-size="12.65" fill="#111">Whole-rock Ce/Yb<tspan font-size="7.3" dy="2.5">NMORB</tspan></text>
<text x="0.0" y="0.0" font-family="Liberation Sans, sans-serif" font-size="13" text-anchor="middle" font-weight="normal" font-style="normal" fill="#111" transform="translate(350.2,507.2) rotate(-90)">Whole-rock V/Sc</text>
</svg>
</body></html>
